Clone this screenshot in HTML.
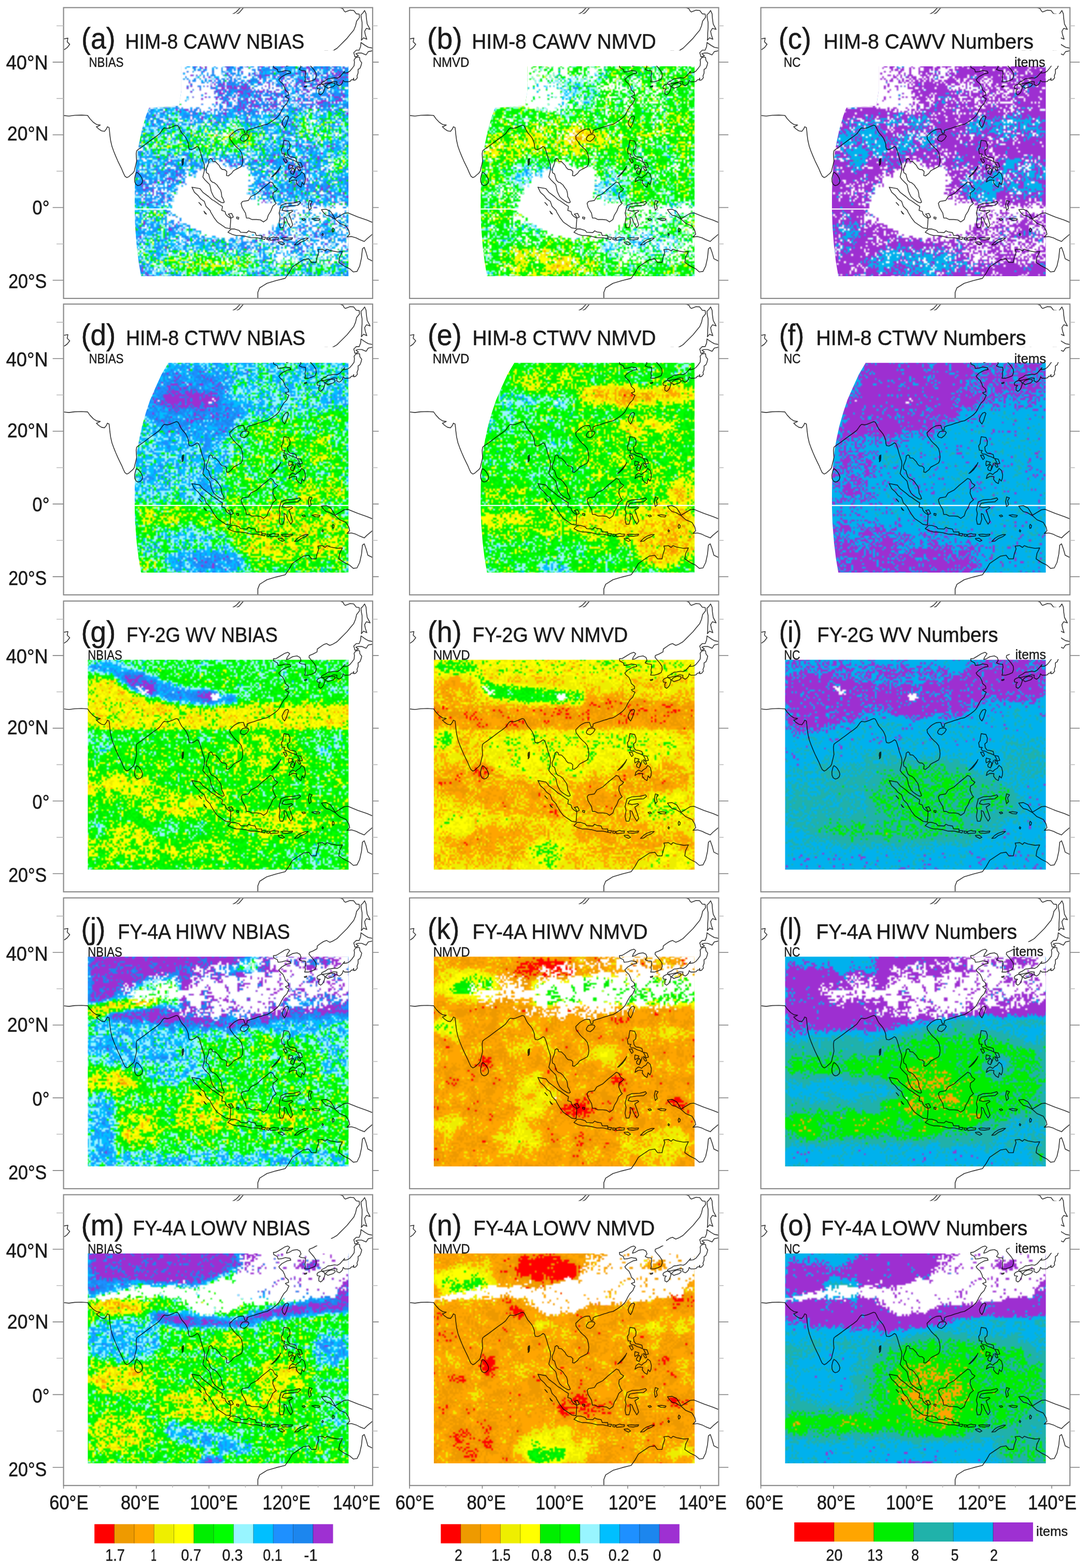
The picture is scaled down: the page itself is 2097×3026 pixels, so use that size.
<!DOCTYPE html>
<html><head><meta charset="utf-8"><title>Figure</title>
<style>html,body{margin:0;padding:0;background:#fff}svg{display:block}text{font-family:"Liberation Sans",sans-serif}</style></head>
<body>
<svg width="2097" height="3026" viewBox="0 0 2097 3026">
<defs>
<clipPath id="cH"><polygon points="202.1,113.4 549.8,113.4 549.8,518.3 149.5,518.3 144.9,491.2 141.2,461.1 138.2,423.5 137.0,386.0 137.4,348.4 139.3,310.8 141.9,284.4 145.7,261.9 151.3,235.6 158.9,209.3 167.1,184.8 177.7,160.4 188.9,136.0"/></clipPath>
<clipPath id="cH1"><polygon points="227.3,113.4 549.8,113.4 549.8,518.3 149.5,518.3 144.9,491.2 141.2,461.1 138.2,423.5 137.0,386.0 137.4,348.4 139.3,310.8 141.9,284.4 145.7,261.9 151.3,235.6 158.9,209.3 164.9,193.1 222.8,189.3 227.3,160.4"/></clipPath>
<clipPath id="cF"><polygon points="46.8,113.4 549.8,113.4 549.8,518.3 46.8,518.3"/></clipPath>
<clipPath id="cP"><rect x="0" y="0" width="596.3" height="561.2"/></clipPath>
<path id="coast" d="M-6.6,208.1 -0.9,208.1 10.4,209.3 21.6,207.8 34.8,207.4 46.4,208.1 50.8,214.3 57.4,221.3 63.9,225.6 70.9,226.6 66.7,228.8 63.4,229.9 67.7,234.1 73.3,237.8 79.0,238.8 82.7,234.1 84.6,229.9 87.8,231.5 88.6,237.8 89.3,245.4 90.8,256.6 93.4,267.9 96.8,277.3 100.6,286.7 104.7,296.1 108.5,304.0 112.2,311.5 115.2,318.7 118.4,325.3 122.2,328.1 126.0,326.2 129.7,322.8 133.5,319.6 136.3,315.9 137.8,309.3 139.5,302.7 141.0,296.1 140.4,288.6 140.1,282.0 141.0,276.4 143.8,273.9 150.4,269.4 157.0,264.5 164.5,258.9 172.0,253.3 178.6,248.7 185.2,243.5 188.6,238.8 191.2,235.0 194.2,232.2 196.8,232.6 200.2,233.1 204.3,232.2 209.2,230.3 213.7,228.4 217.5,226.9 220.5,227.7 222.8,231.3 225.0,236.3 228.0,241.6 232.2,246.3 235.9,251.0 238.7,256.6 240.8,262.7 241.2,268.9 242.5,273.2 247.2,273.9 252.8,271.3 257.5,267.9 260.4,269.4 262.6,274.5 264.9,282.0 266.9,289.5 269.4,297.1 271.6,303.3 272.0,310.2 271.3,315.9 270.1,320.9M141.0,317.7 144.8,320.2 148.0,323.9 151.0,329.0 152.5,334.1 151.3,339.0 147.6,342.4 143.4,343.5 139.7,341.2 137.4,336.5 137.0,330.3 138.2,324.3 139.5,320.2ZM229.5,292.0 230.8,295.2 230.7,299.9 229.5,302.1 228.4,298.9 228.6,294.6ZM270.1,320.6 268.7,326.9 272.2,331.8 277.8,337.4 282.0,341.6 283.4,347.2 284.8,354.3 286.9,359.2 289.7,364.8 293.9,369.0 298.8,372.5 304.5,376.0 308.0,376.7 310.1,375.3 308.0,369.7 305.2,364.8 304.5,357.8 303.0,352.2 298.8,346.5 296.0,342.3 291.1,338.1 286.9,336.7 283.4,333.2 281.3,326.9 279.9,321.3 275.7,318.5 275.0,312.2 277.8,305.2 279.9,299.5 280.6,293.2 284.1,291.1 286.9,293.2 287.6,296.7 293.2,297.4 296.7,300.9 300.2,304.5 302.3,308.7 305.9,312.2 311.5,312.9 315.0,316.4 314.3,324.1 317.8,324.8 324.1,319.9 327.6,315.0 331.1,312.9 336.7,310.1 343.0,306.6 345.1,301.6 345.8,294.6 345.1,287.6 343.0,279.2 338.8,273.6 333.9,269.4 329.0,264.5 325.5,259.6 321.3,253.9 320.6,248.3 324.1,244.8 328.3,240.6 332.5,237.8 338.1,235.0 343.0,234.3 347.2,234.3 348.6,238.5 350.0,242.7 353.6,242.7 354.3,237.1 359.2,235.0 366.9,232.9 374.6,230.1 380.2,228.7 385.8,226.6 392.8,225.2 398.5,221.7 404.8,217.5 410.4,213.3 415.3,208.3 418.1,203.4 420.9,197.8 425.1,190.8 430.7,185.2 432.8,180.3 434.9,176.1 430.0,173.3 427.9,171.2 434.2,169.1 433.5,164.2 427.9,159.2 426.5,154.3 423.0,147.3 417.4,142.4 415.3,138.9 420.9,133.3 425.8,130.5 431.4,127.7 438.4,126.3 437.0,122.8 427.9,121.4 420.9,123.5 413.9,124.2 412.5,119.3 405.5,115.7 404.8,111.5 410.4,110.8 417.4,106.6 426.5,101.0 432.8,98.9 436.3,101.7 431.4,108.7 430.0,112.9 434.9,111.5 441.9,107.3 450.4,105.9 456.0,108.7 458.1,114.3 454.6,119.3 459.5,121.4 466.5,122.1 467.2,127.7 465.8,133.3 466.5,138.9 465.1,143.1 472.1,143.1 479.1,141.0 485.4,138.2 487.5,131.9 486.8,125.6 482.6,119.3 477.0,112.9 473.5,108.7 474.2,105.2 481.2,102.4 488.9,98.2 489.6,92.6 495.3,88.4 501.6,84.2 507.2,82.1 513.5,85.6 519.1,83.5 527.5,78.6 533.1,73.0 540.2,65.9 547.2,58.9 552.8,51.9 559.8,43.5 563.3,35.1 565.4,26.0 571.0,18.9 570.3,12.6 564.7,11.9 559.8,5.6 552.8,4.9 543.7,8.4 541.6,7.0 538.8,2.1 529.6,-1.4M341.6,251.1 345.1,246.2 350.8,244.8 355.7,245.5 357.8,248.3 354.3,253.9 348.6,258.2 343.0,256.7 340.9,253.9ZM427.9,210.4 432.1,209.0 434.2,211.2 432.1,217.5 430.0,224.5 426.5,231.5 423.0,227.3 421.6,221.7 424.4,215.4ZM464.4,152.2 469.3,150.8 468.6,152.9 465.1,153.6ZM488.9,152.9 491.0,150.1 497.4,147.3 503.0,150.1 504.4,154.3 501.6,162.7 498.8,166.3 496.0,168.4 492.5,166.3 492.5,159.9 495.3,157.1 489.6,156.4ZM505.1,152.2 509.3,148.0 516.3,145.2 523.3,145.9 524.0,148.7 520.5,152.2 513.5,154.3 510.0,155.7ZM497.4,147.3 498.1,144.5 505.1,141.0 510.0,137.5 515.6,136.8 522.6,135.4 528.2,136.1 533.1,133.3 538.1,127.7 542.3,122.8 540.2,126.3 547.2,125.6 552.1,122.8 556.3,117.9 560.5,112.2 561.2,105.2 560.5,101.0 563.3,96.8 568.2,95.4 571.0,96.1 571.7,101.7 575.2,106.6 573.8,112.2 571.7,117.2 568.2,119.3 568.2,126.3 566.1,131.9 566.8,135.4 563.3,139.6 559.8,140.3 559.8,136.1 558.4,138.9 554.9,139.6 552.8,142.4 548.6,143.1 542.3,143.1 539.5,140.3 538.1,145.2 535.2,148.7 531.7,150.8 526.8,148.0 527.5,143.1 521.2,142.4 514.9,144.5 507.9,145.9 503.0,147.3ZM561.9,94.7 561.2,91.2 559.8,87.0 564.7,82.1 570.3,82.1 573.1,75.1 573.8,67.3 580.8,72.3 587.9,76.5 598.4,78.6 598.4,82.8 587.9,84.9 583.6,91.2 575.2,87.7 568.2,87.7 564.0,89.1 568.9,92.6 564.7,94.7ZM574.5,63.1 578.7,58.2 585.1,61.0 582.2,52.6 580.8,45.6 584.3,40.0 591.4,42.1 585.8,31.6 584.3,21.0 583.6,11.9 580.8,5.6 577.3,10.5 573.8,14.0 574.5,21.0 575.9,28.1 575.9,38.6 575.2,49.1 575.2,56.1ZM306.6,23.9 315.7,22.4 326.2,16.8 338.8,9.8 347.2,0.0 350.0,-4.2 343.7,-4.2 340.9,0.0 333.2,8.4 319.2,16.8 308.7,22.4ZM-3.5,61.0 8.4,58.9 7.0,65.9 11.9,70.9 7.0,77.2 2.1,80.7 -3.5,81.4M425.1,256.0 434.2,257.5 437.0,264.5 436.3,272.2 432.1,275.7 432.8,282.7 436.3,287.6 441.9,288.3 448.3,290.4 449.7,297.4 444.0,294.6 439.1,293.2 432.8,289.7 427.2,289.0 425.1,285.5 427.2,282.7 421.6,282.0 420.2,273.6 423.0,269.4 423.7,263.1ZM423.7,291.8 429.3,291.8 431.4,297.4 428.6,300.2 426.5,296.7ZM401.3,326.9 406.9,321.3 412.5,315.0 417.4,308.7 418.8,305.9 416.0,312.2 410.4,319.9 404.1,325.5ZM451.1,298.1 458.1,299.5 460.9,307.3 456.0,308.7 454.6,304.5ZM451.8,305.9 456.0,310.1 457.4,314.3 454.6,315.0 451.8,310.8ZM434.9,303.0 442.6,305.2 440.5,309.4 434.9,312.2 434.2,308.7ZM437.7,316.4 442.6,309.4 445.5,312.9 443.3,322.0 438.4,319.9ZM444.8,319.2 449.0,307.3 446.9,313.6ZM434.9,336.7 437.0,329.7 441.9,326.2 447.6,329.0 451.1,325.5 456.0,322.7 459.5,317.1 464.4,321.3 466.5,329.7 465.8,336.7 463.7,341.6 460.2,337.4 458.8,343.7 458.1,346.5 453.2,343.7 449.0,338.1 449.7,333.2 444.8,332.5 440.5,333.2ZM247.6,346.5 263.1,349.3 268.7,356.4 279.9,364.8 286.2,370.4 291.1,373.2 300.9,380.2 306.6,383.7 305.2,391.4 311.5,393.5 312.9,398.5 315.7,402.0 322.7,406.9 322.0,416.7 321.3,426.5 312.9,425.1 308.0,421.6 296.7,413.9 290.4,405.5 284.1,394.9 282.7,391.4 275.0,383.7 271.5,373.9 264.5,369.0 259.6,362.7 252.5,356.4ZM317.1,433.5 323.4,427.2 329.7,427.2 338.8,430.0 341.6,433.5 353.6,434.2 357.1,430.7 361.3,432.8 369.7,434.2 371.8,439.8 382.3,439.8 382.3,446.2 373.2,444.0 361.3,444.0 350.8,441.2 340.2,439.8 333.2,439.8 325.5,437.7ZM382.3,442.6 390.0,443.3 387.9,447.6 383.0,446.2ZM392.1,444.0 397.8,444.8 396.3,448.3 392.1,447.6ZM398.5,444.8 405.5,442.6 409.0,444.0 414.6,444.0 413.9,447.6 406.2,448.3 399.2,449.0ZM420.2,444.8 427.9,444.0 434.9,444.8 441.9,444.0 440.5,446.9 431.4,448.3 423.0,447.6ZM413.9,452.5 420.9,451.8 426.5,456.0 422.3,458.1 415.3,454.6ZM445.5,458.1 451.8,451.8 457.4,448.3 467.2,444.8 472.1,444.8 466.5,449.0 458.1,452.5 451.8,457.4ZM231.5,291.1 229.4,298.1 228.7,304.5 230.8,302.3 231.5,296.0ZM261.0,376.0 265.9,381.6 263.8,378.8ZM270.8,392.8 275.7,398.5 272.9,397.0ZM317.8,398.5 324.1,397.0 327.6,404.1 322.7,406.2 320.6,401.3ZM333.9,404.1 338.1,404.8 337.4,408.3 333.9,406.9ZM345.3,374.1 356.6,372.2 361.3,364.7 372.6,359.0 382.9,349.6 392.3,342.1 398.9,336.5 403.6,338.4 407.4,345.9 413.0,349.6 410.2,353.4 404.5,357.2 403.6,364.7 407.4,374.1 410.2,377.8 403.6,383.5 399.8,392.9 395.1,400.4 392.3,408.9 385.7,413.6 380.1,409.8 372.6,408.9 363.2,408.9 357.5,406.0 352.8,406.0 351.0,396.6 344.4,385.4 342.5,377.8ZM419.6,381.6 429.0,377.8 444.0,376.9 455.3,374.1 457.2,376.9 451.5,381.6 438.4,382.5 425.2,384.4 421.4,391.0 429.0,392.9 440.2,391.0 442.1,392.9 434.6,397.6 438.4,407.9 442.1,419.2 438.4,424.8 432.7,415.4 429.0,406.0 425.2,404.2 426.1,415.4 423.3,424.8 417.7,424.8 415.8,415.4 417.7,404.2 415.8,396.6 417.7,389.1ZM474.1,372.2 479.7,374.1 476.0,379.7 477.8,387.2 474.1,391.0 472.2,381.6ZM460.0,407.9 464.7,407.2 466.6,409.4 462.8,410.7ZM478.8,407.5 485.4,406.4 494.8,407.9 492.9,410.7 485.4,410.4ZM374.8,563.6 374.8,549.6 378.3,540.8 392.4,532.0 409.9,526.8 427.5,522.4 434.5,512.7 441.5,500.5 452.0,493.4 462.6,486.4 473.1,484.7 478.3,491.7 487.1,491.7 488.9,482.9 492.4,472.4 490.6,467.1 499.4,466.2 504.7,469.7 508.2,466.2 515.2,468.9 529.2,471.5 538.0,470.6 532.7,481.2 531.0,491.7 541.5,498.7 552.0,504.0 559.0,510.1 566.1,509.2 571.3,498.7 574.8,482.9 576.6,465.4 580.1,462.7 583.6,472.4 587.1,484.7 595.9,489.0 602.9,490.8M602.9,416.2 595.9,414.5 585.4,410.1 567.8,404.0 548.5,396.1 541.5,396.9 532.7,402.2 524.0,407.5 518.7,398.7 515.2,393.4 506.4,389.0 497.6,389.9 501.1,395.2 506.4,400.5 513.4,402.2 524.0,408.3 532.7,416.2 545.0,421.5 550.3,430.3 552.0,437.3 546.8,442.6 555.5,441.7 564.3,444.3 571.3,447.8 580.1,451.3 585.4,446.1 595.9,437.3 602.9,435.5M519.6,425.0 522.2,427.6 521.3,432.0 519.0,432.9 518.3,428.5ZM499.4,435.5 501.5,437.3 500.3,439.9 498.5,438.2Z" fill="none" stroke="#000" stroke-opacity="0.78" stroke-width="1.6" stroke-linejoin="round"/>
<filter id="qa" filterUnits="userSpaceOnUse" x="0" y="0" width="602" height="567" color-interpolation-filters="sRGB"><feTurbulence type="fractalNoise" baseFrequency="0.33" numOctaves="1" seed="3" result="n"/><feColorMatrix in="n" type="matrix" values="1 0 0 0 0 1 0 0 0 0 1 0 0 0 0 0 0 0 0 1" result="g"/><feTurbulence type="fractalNoise" baseFrequency="0.035" numOctaves="2" seed="50" result="n2"/><feColorMatrix in="n2" type="matrix" values="1 0 0 0 0 1 0 0 0 0 1 0 0 0 0 0 0 0 0 1" result="g2"/><feComposite in="g" in2="g2" operator="arithmetic" k1="0" k2="1.01246" k3="0.3125" k4="-0.162481" result="gg"/><feComposite in="SourceGraphic" in2="gg" operator="arithmetic" k1="0" k2="1" k3="1" k4="-0.5" result="v"/><feFlood flood-color="#000" x="1" y="1" width="1" height="1" result="p1"/><feFlood flood-color="#000" x="5" y="1" width="1" height="1" result="p2"/><feFlood flood-color="#000" x="1" y="5" width="1" height="1" result="p3"/><feFlood flood-color="#000" x="5" y="5" width="1" height="1" result="p4"/><feMerge x="0" y="0" width="7" height="7" result="cell"><feMergeNode in="p1"/><feMergeNode in="p2"/><feMergeNode in="p3"/><feMergeNode in="p4"/></feMerge><feTile in="cell" result="pts"/><feComposite in="v" in2="pts" operator="in" result="s"/><feMorphology in="s" operator="dilate" radius="1" result="d"/><feOffset in="d" dx="1" dy="0" result="o1"/><feOffset in="d" dx="0" dy="1" result="o2"/><feOffset in="d" dx="1" dy="1" result="o3"/><feMerge><feMergeNode in="o3"/><feMergeNode in="o2"/><feMergeNode in="o1"/><feMergeNode in="d"/></feMerge><feComponentTransfer><feFuncR type="discrete" tableValues="1.0000 0.9333 1.0000 0.9333 1.0000 0.0000 0.0000 0.5961 0.0000 0.1176 0.1098 0.6196"/><feFuncG type="discrete" tableValues="0.0000 0.6039 0.6471 0.9333 1.0000 0.9333 1.0000 0.9608 0.7490 0.5647 0.5255 0.1882"/><feFuncB type="discrete" tableValues="0.0000 0.0000 0.0000 0.0000 0.0000 0.0000 0.0000 1.0000 1.0000 1.0000 0.9333 0.8235"/></feComponentTransfer><feGaussianBlur stdDeviation="0.8"/></filter>
<filter id="g0" filterUnits="userSpaceOnUse" x="0" y="0" width="602" height="567" color-interpolation-filters="sRGB"><feTurbulence type="fractalNoise" baseFrequency="0.33" numOctaves="1" seed="101" result="n"/><feColorMatrix in="n" type="matrix" values="0 1 0 0 0 0 1 0 0 0 0 1 0 0 0 0 0 0 0 1" result="g"/><feTurbulence type="fractalNoise" baseFrequency="0.03" numOctaves="2" seed="201" result="n2"/><feColorMatrix in="n2" type="matrix" values="0 1 0 0 0 0 1 0 0 0 0 1 0 0 0 0 0 0 0 1" result="g2"/><feComposite in="g" in2="g2" operator="arithmetic" k1="0" k2="1" k3="0.375" k4="-0.1875" result="gg"/><feComposite in="SourceGraphic" in2="gg" operator="arithmetic" k1="0" k2="1" k3="1" k4="-0.5" result="v"/><feFlood flood-color="#000" x="1" y="1" width="1" height="1" result="p1"/><feFlood flood-color="#000" x="5" y="1" width="1" height="1" result="p2"/><feFlood flood-color="#000" x="1" y="5" width="1" height="1" result="p3"/><feFlood flood-color="#000" x="5" y="5" width="1" height="1" result="p4"/><feMerge x="0" y="0" width="7" height="7" result="cell"><feMergeNode in="p1"/><feMergeNode in="p2"/><feMergeNode in="p3"/><feMergeNode in="p4"/></feMerge><feTile in="cell" result="pts"/><feComposite in="v" in2="pts" operator="in" result="s"/><feMorphology in="s" operator="dilate" radius="1" result="d"/><feOffset in="d" dx="1" dy="0" result="o1"/><feOffset in="d" dx="0" dy="1" result="o2"/><feOffset in="d" dx="1" dy="1" result="o3"/><feMerge><feMergeNode in="o3"/><feMergeNode in="o2"/><feMergeNode in="o1"/><feMergeNode in="d"/></feMerge><feColorMatrix type="matrix" values="0 0 0 0 1 0 0 0 0 1 0 0 0 0 1 1 0 0 0 0"/><feComponentTransfer><feFuncA type="discrete" tableValues="0 1"/></feComponentTransfer><feGaussianBlur stdDeviation="0.8"/></filter>
<g id="Gg0"><rect x="-5" y="50" width="620" height="520" fill="#5b5b5b"/><g filter="url(#b140)"><ellipse cx="305.5" cy="374.7" rx="120.3" ry="78.9" fill="#747474"/></g><g filter="url(#b120)"><polygon points="373.1,130.3 516.0,130.3 516.0,198.0 373.1,198.0 335.5,179.2" fill="#707070"/></g><g filter="url(#b80)"><ellipse cx="448.3" cy="175.4" rx="41.4" ry="15.0" fill="#797979"/></g><g filter="url(#b100)"><polygon points="290.4,100.2 373.1,100.2 373.1,149.1 290.4,149.1" fill="#797979"/><polygon points="222.8,100.2 298.0,100.2 298.0,160.4 222.8,160.4" fill="#969696"/></g><g filter="url(#b80)"><polygon points="230.3,156.6 294.2,156.6 298.0,194.2 275.4,205.5 260.4,190.5 230.3,188.6" fill="#9c9c9c"/><ellipse cx="320.5" cy="182.9" rx="22.6" ry="18.8" fill="#808080"/></g><g filter="url(#b25)"><polygon points="222.8,154.7 273.5,154.7 273.5,192.3 222.8,192.3" fill="#a2a2a2"/></g><g filter="url(#b15)"><polygon points="110.0,100.2 227.3,100.2 227.3,160.4 222.8,189.0 162.6,192.7 110.0,243.1" fill="#ffffff"/></g><g filter="url(#b80)"><polygon points="410.7,380.3 549.8,380.3 549.8,431.1 410.7,431.1" fill="#838383"/></g><g filter="url(#b40)"><ellipse cx="512.2" cy="390.5" rx="41.4" ry="5.3" fill="#a2a2a2"/></g><g filter="url(#b100)"><polygon points="316.7,423.5 549.8,423.5 549.8,491.2 429.5,491.2 316.7,457.4" fill="#797979"/></g><g filter="url(#b80)"><ellipse cx="410.7" cy="446.1" rx="41.4" ry="15.0" fill="#838383"/><ellipse cx="222.8" cy="386.0" rx="33.8" ry="41.4" fill="#717171"/></g><g filter="url(#b70)"><polygon points="245.3,337.1 260.4,325.8 275.4,314.5 286.7,301.4 303.6,299.5 313.0,316.4 335.5,310.8 356.2,316.4 354.3,348.4 351.3,370.9 373.1,384.1 405.1,384.1 418.3,397.2 407.0,416.0 373.1,431.8 335.5,434.8 316.7,443.1 284.8,432.9 245.3,417.9 219.0,404.7 212.2,386.0 219.0,367.2 232.2,350.2" fill="#ffffff"/></g></g>
<filter id="qb" filterUnits="userSpaceOnUse" x="0" y="0" width="602" height="567" color-interpolation-filters="sRGB"><feTurbulence type="fractalNoise" baseFrequency="0.33" numOctaves="1" seed="10" result="n"/><feColorMatrix in="n" type="matrix" values="1 0 0 0 0 1 0 0 0 0 1 0 0 0 0 0 0 0 0 1" result="g"/><feTurbulence type="fractalNoise" baseFrequency="0.035" numOctaves="2" seed="53" result="n2"/><feColorMatrix in="n2" type="matrix" values="1 0 0 0 0 1 0 0 0 0 1 0 0 0 0 0 0 0 0 1" result="g2"/><feComposite in="g" in2="g2" operator="arithmetic" k1="0" k2="0.623053" k3="0.277778" k4="0.0495846" result="gg"/><feComposite in="SourceGraphic" in2="gg" operator="arithmetic" k1="0" k2="1" k3="1" k4="-0.5" result="v"/><feFlood flood-color="#000" x="1" y="1" width="1" height="1" result="p1"/><feFlood flood-color="#000" x="5" y="1" width="1" height="1" result="p2"/><feFlood flood-color="#000" x="1" y="5" width="1" height="1" result="p3"/><feFlood flood-color="#000" x="5" y="5" width="1" height="1" result="p4"/><feMerge x="0" y="0" width="7" height="7" result="cell"><feMergeNode in="p1"/><feMergeNode in="p2"/><feMergeNode in="p3"/><feMergeNode in="p4"/></feMerge><feTile in="cell" result="pts"/><feComposite in="v" in2="pts" operator="in" result="s"/><feMorphology in="s" operator="dilate" radius="1" result="d"/><feOffset in="d" dx="1" dy="0" result="o1"/><feOffset in="d" dx="0" dy="1" result="o2"/><feOffset in="d" dx="1" dy="1" result="o3"/><feMerge><feMergeNode in="o3"/><feMergeNode in="o2"/><feMergeNode in="o1"/><feMergeNode in="d"/></feMerge><feComponentTransfer><feFuncR type="discrete" tableValues="1.0000 0.9333 1.0000 0.9333 1.0000 0.0000 0.0000 0.5961 0.0000 0.1176 0.1098 0.6196"/><feFuncG type="discrete" tableValues="0.0000 0.6039 0.6471 0.9333 1.0000 0.9333 1.0000 0.9608 0.7490 0.5647 0.5255 0.1882"/><feFuncB type="discrete" tableValues="0.0000 0.0000 0.0000 0.0000 0.0000 0.0000 0.0000 1.0000 1.0000 1.0000 0.9333 0.8235"/></feComponentTransfer><feGaussianBlur stdDeviation="0.8"/></filter>
<filter id="qc" filterUnits="userSpaceOnUse" x="0" y="0" width="602" height="567" color-interpolation-filters="sRGB"><feTurbulence type="fractalNoise" baseFrequency="0.33" numOctaves="1" seed="17" result="n"/><feColorMatrix in="n" type="matrix" values="1 0 0 0 0 1 0 0 0 0 1 0 0 0 0 0 0 0 0 1" result="g"/><feTurbulence type="fractalNoise" baseFrequency="0.035" numOctaves="2" seed="56" result="n2"/><feColorMatrix in="n2" type="matrix" values="1 0 0 0 0 1 0 0 0 0 1 0 0 0 0 0 0 0 0 1" result="g2"/><feComposite in="g" in2="g2" operator="arithmetic" k1="0" k2="0.420561" k3="0.236111" k4="0.171664" result="gg"/><feComposite in="SourceGraphic" in2="gg" operator="arithmetic" k1="0" k2="1" k3="1" k4="-0.5" result="v"/><feFlood flood-color="#000" x="1" y="1" width="1" height="1" result="p1"/><feFlood flood-color="#000" x="5" y="1" width="1" height="1" result="p2"/><feFlood flood-color="#000" x="1" y="5" width="1" height="1" result="p3"/><feFlood flood-color="#000" x="5" y="5" width="1" height="1" result="p4"/><feMerge x="0" y="0" width="7" height="7" result="cell"><feMergeNode in="p1"/><feMergeNode in="p2"/><feMergeNode in="p3"/><feMergeNode in="p4"/></feMerge><feTile in="cell" result="pts"/><feComposite in="v" in2="pts" operator="in" result="s"/><feMorphology in="s" operator="dilate" radius="1" result="d"/><feOffset in="d" dx="1" dy="0" result="o1"/><feOffset in="d" dx="0" dy="1" result="o2"/><feOffset in="d" dx="1" dy="1" result="o3"/><feMerge><feMergeNode in="o3"/><feMergeNode in="o2"/><feMergeNode in="o1"/><feMergeNode in="d"/></feMerge><feComponentTransfer><feFuncR type="discrete" tableValues="1.0000 1.0000 0.0000 0.1255 0.0000 0.6196"/><feFuncG type="discrete" tableValues="0.0000 0.6471 0.9333 0.6980 0.6980 0.1882"/><feFuncB type="discrete" tableValues="0.0000 0.0000 0.0000 0.6667 0.9333 0.8235"/></feComponentTransfer><feGaussianBlur stdDeviation="0.8"/></filter>
<filter id="qd" filterUnits="userSpaceOnUse" x="0" y="0" width="602" height="567" color-interpolation-filters="sRGB"><feTurbulence type="fractalNoise" baseFrequency="0.33" numOctaves="1" seed="24" result="n"/><feColorMatrix in="n" type="matrix" values="1 0 0 0 0 1 0 0 0 0 1 0 0 0 0 0 0 0 0 1" result="g"/><feTurbulence type="fractalNoise" baseFrequency="0.035" numOctaves="2" seed="59" result="n2"/><feColorMatrix in="n2" type="matrix" values="1 0 0 0 0 1 0 0 0 0 1 0 0 0 0 0 0 0 0 1" result="g2"/><feComposite in="g" in2="g2" operator="arithmetic" k1="0" k2="0.700935" k3="0.277778" k4="0.0106438" result="gg"/><feComposite in="SourceGraphic" in2="gg" operator="arithmetic" k1="0" k2="1" k3="1" k4="-0.5" result="v"/><feFlood flood-color="#000" x="1" y="1" width="1" height="1" result="p1"/><feFlood flood-color="#000" x="5" y="1" width="1" height="1" result="p2"/><feFlood flood-color="#000" x="1" y="5" width="1" height="1" result="p3"/><feFlood flood-color="#000" x="5" y="5" width="1" height="1" result="p4"/><feMerge x="0" y="0" width="7" height="7" result="cell"><feMergeNode in="p1"/><feMergeNode in="p2"/><feMergeNode in="p3"/><feMergeNode in="p4"/></feMerge><feTile in="cell" result="pts"/><feComposite in="v" in2="pts" operator="in" result="s"/><feMorphology in="s" operator="dilate" radius="1" result="d"/><feOffset in="d" dx="1" dy="0" result="o1"/><feOffset in="d" dx="0" dy="1" result="o2"/><feOffset in="d" dx="1" dy="1" result="o3"/><feMerge><feMergeNode in="o3"/><feMergeNode in="o2"/><feMergeNode in="o1"/><feMergeNode in="d"/></feMerge><feComponentTransfer><feFuncR type="discrete" tableValues="1.0000 0.9333 1.0000 0.9333 1.0000 0.0000 0.0000 0.5961 0.0000 0.1176 0.1098 0.6196"/><feFuncG type="discrete" tableValues="0.0000 0.6039 0.6471 0.9333 1.0000 0.9333 1.0000 0.9608 0.7490 0.5647 0.5255 0.1882"/><feFuncB type="discrete" tableValues="0.0000 0.0000 0.0000 0.0000 0.0000 0.0000 0.0000 1.0000 1.0000 1.0000 0.9333 0.8235"/></feComponentTransfer><feGaussianBlur stdDeviation="0.8"/></filter>
<filter id="g1" filterUnits="userSpaceOnUse" x="0" y="0" width="602" height="567" color-interpolation-filters="sRGB"><feTurbulence type="fractalNoise" baseFrequency="0.33" numOctaves="1" seed="114" result="n"/><feColorMatrix in="n" type="matrix" values="0 1 0 0 0 0 1 0 0 0 0 1 0 0 0 0 0 0 0 1" result="g"/><feTurbulence type="fractalNoise" baseFrequency="0.03" numOctaves="2" seed="206" result="n2"/><feColorMatrix in="n2" type="matrix" values="0 1 0 0 0 0 1 0 0 0 0 1 0 0 0 0 0 0 0 1" result="g2"/><feComposite in="g" in2="g2" operator="arithmetic" k1="0" k2="1" k3="0.333333" k4="-0.166667" result="gg"/><feComposite in="SourceGraphic" in2="gg" operator="arithmetic" k1="0" k2="1" k3="1" k4="-0.5" result="v"/><feFlood flood-color="#000" x="1" y="1" width="1" height="1" result="p1"/><feFlood flood-color="#000" x="5" y="1" width="1" height="1" result="p2"/><feFlood flood-color="#000" x="1" y="5" width="1" height="1" result="p3"/><feFlood flood-color="#000" x="5" y="5" width="1" height="1" result="p4"/><feMerge x="0" y="0" width="7" height="7" result="cell"><feMergeNode in="p1"/><feMergeNode in="p2"/><feMergeNode in="p3"/><feMergeNode in="p4"/></feMerge><feTile in="cell" result="pts"/><feComposite in="v" in2="pts" operator="in" result="s"/><feMorphology in="s" operator="dilate" radius="1" result="d"/><feOffset in="d" dx="1" dy="0" result="o1"/><feOffset in="d" dx="0" dy="1" result="o2"/><feOffset in="d" dx="1" dy="1" result="o3"/><feMerge><feMergeNode in="o3"/><feMergeNode in="o2"/><feMergeNode in="o1"/><feMergeNode in="d"/></feMerge><feColorMatrix type="matrix" values="0 0 0 0 1 0 0 0 0 1 0 0 0 0 1 1 0 0 0 0"/><feComponentTransfer><feFuncA type="discrete" tableValues="0 1"/></feComponentTransfer><feGaussianBlur stdDeviation="0.8"/></filter>
<g id="Gg1"><rect x="-5" y="50" width="620" height="520" fill="#000000"/><g filter="url(#b30)"><ellipse cx="190.8" cy="187.5" rx="16.9" ry="4.5" fill="#757575"/></g><g filter="url(#b40)"><ellipse cx="286.7" cy="189.7" rx="18.8" ry="8.3" fill="#7a7a7a"/></g></g>
<filter id="qe" filterUnits="userSpaceOnUse" x="0" y="0" width="602" height="567" color-interpolation-filters="sRGB"><feTurbulence type="fractalNoise" baseFrequency="0.33" numOctaves="1" seed="31" result="n"/><feColorMatrix in="n" type="matrix" values="1 0 0 0 0 1 0 0 0 0 1 0 0 0 0 0 0 0 0 1" result="g"/><feTurbulence type="fractalNoise" baseFrequency="0.035" numOctaves="2" seed="62" result="n2"/><feColorMatrix in="n2" type="matrix" values="1 0 0 0 0 1 0 0 0 0 1 0 0 0 0 0 0 0 0 1" result="g2"/><feComposite in="g" in2="g2" operator="arithmetic" k1="0" k2="0.584112" k3="0.277778" k4="0.069055" result="gg"/><feComposite in="SourceGraphic" in2="gg" operator="arithmetic" k1="0" k2="1" k3="1" k4="-0.5" result="v"/><feFlood flood-color="#000" x="1" y="1" width="1" height="1" result="p1"/><feFlood flood-color="#000" x="5" y="1" width="1" height="1" result="p2"/><feFlood flood-color="#000" x="1" y="5" width="1" height="1" result="p3"/><feFlood flood-color="#000" x="5" y="5" width="1" height="1" result="p4"/><feMerge x="0" y="0" width="7" height="7" result="cell"><feMergeNode in="p1"/><feMergeNode in="p2"/><feMergeNode in="p3"/><feMergeNode in="p4"/></feMerge><feTile in="cell" result="pts"/><feComposite in="v" in2="pts" operator="in" result="s"/><feMorphology in="s" operator="dilate" radius="1" result="d"/><feOffset in="d" dx="1" dy="0" result="o1"/><feOffset in="d" dx="0" dy="1" result="o2"/><feOffset in="d" dx="1" dy="1" result="o3"/><feMerge><feMergeNode in="o3"/><feMergeNode in="o2"/><feMergeNode in="o1"/><feMergeNode in="d"/></feMerge><feComponentTransfer><feFuncR type="discrete" tableValues="1.0000 0.9333 1.0000 0.9333 1.0000 0.0000 0.0000 0.5961 0.0000 0.1176 0.1098 0.6196"/><feFuncG type="discrete" tableValues="0.0000 0.6039 0.6471 0.9333 1.0000 0.9333 1.0000 0.9608 0.7490 0.5647 0.5255 0.1882"/><feFuncB type="discrete" tableValues="0.0000 0.0000 0.0000 0.0000 0.0000 0.0000 0.0000 1.0000 1.0000 1.0000 0.9333 0.8235"/></feComponentTransfer><feGaussianBlur stdDeviation="0.8"/></filter>
<filter id="qf" filterUnits="userSpaceOnUse" x="0" y="0" width="602" height="567" color-interpolation-filters="sRGB"><feTurbulence type="fractalNoise" baseFrequency="0.33" numOctaves="1" seed="38" result="n"/><feColorMatrix in="n" type="matrix" values="1 0 0 0 0 1 0 0 0 0 1 0 0 0 0 0 0 0 0 1" result="g"/><feTurbulence type="fractalNoise" baseFrequency="0.035" numOctaves="2" seed="65" result="n2"/><feColorMatrix in="n2" type="matrix" values="1 0 0 0 0 1 0 0 0 0 1 0 0 0 0 0 0 0 0 1" result="g2"/><feComposite in="g" in2="g2" operator="arithmetic" k1="0" k2="0.46729" k3="0.180556" k4="0.176077" result="gg"/><feComposite in="SourceGraphic" in2="gg" operator="arithmetic" k1="0" k2="1" k3="1" k4="-0.5" result="v"/><feFlood flood-color="#000" x="1" y="1" width="1" height="1" result="p1"/><feFlood flood-color="#000" x="5" y="1" width="1" height="1" result="p2"/><feFlood flood-color="#000" x="1" y="5" width="1" height="1" result="p3"/><feFlood flood-color="#000" x="5" y="5" width="1" height="1" result="p4"/><feMerge x="0" y="0" width="7" height="7" result="cell"><feMergeNode in="p1"/><feMergeNode in="p2"/><feMergeNode in="p3"/><feMergeNode in="p4"/></feMerge><feTile in="cell" result="pts"/><feComposite in="v" in2="pts" operator="in" result="s"/><feMorphology in="s" operator="dilate" radius="1" result="d"/><feOffset in="d" dx="1" dy="0" result="o1"/><feOffset in="d" dx="0" dy="1" result="o2"/><feOffset in="d" dx="1" dy="1" result="o3"/><feMerge><feMergeNode in="o3"/><feMergeNode in="o2"/><feMergeNode in="o1"/><feMergeNode in="d"/></feMerge><feComponentTransfer><feFuncR type="discrete" tableValues="1.0000 1.0000 0.0000 0.1255 0.0000 0.6196"/><feFuncG type="discrete" tableValues="0.0000 0.6471 0.9333 0.6980 0.6980 0.1882"/><feFuncB type="discrete" tableValues="0.0000 0.0000 0.0000 0.6667 0.9333 0.8235"/></feComponentTransfer><feGaussianBlur stdDeviation="0.8"/></filter>
<filter id="qg" filterUnits="userSpaceOnUse" x="0" y="0" width="602" height="567" color-interpolation-filters="sRGB"><feTurbulence type="fractalNoise" baseFrequency="0.33" numOctaves="1" seed="45" result="n"/><feColorMatrix in="n" type="matrix" values="1 0 0 0 0 1 0 0 0 0 1 0 0 0 0 0 0 0 0 1" result="g"/><feTurbulence type="fractalNoise" baseFrequency="0.05" numOctaves="2" seed="68" result="n2"/><feColorMatrix in="n2" type="matrix" values="1 0 0 0 0 1 0 0 0 0 1 0 0 0 0 0 0 0 0 1" result="g2"/><feComposite in="g" in2="g2" operator="arithmetic" k1="0" k2="0.506231" k3="0.277778" k4="0.107996" result="gg"/><feComposite in="SourceGraphic" in2="gg" operator="arithmetic" k1="0" k2="1" k3="1" k4="-0.5" result="v"/><feFlood flood-color="#000" x="1" y="1" width="1" height="1" result="p1"/><feFlood flood-color="#000" x="5" y="1" width="1" height="1" result="p2"/><feFlood flood-color="#000" x="1" y="5" width="1" height="1" result="p3"/><feFlood flood-color="#000" x="5" y="5" width="1" height="1" result="p4"/><feMerge x="0" y="0" width="7" height="7" result="cell"><feMergeNode in="p1"/><feMergeNode in="p2"/><feMergeNode in="p3"/><feMergeNode in="p4"/></feMerge><feTile in="cell" result="pts"/><feComposite in="v" in2="pts" operator="in" result="s"/><feMorphology in="s" operator="dilate" radius="1" result="d"/><feOffset in="d" dx="1" dy="0" result="o1"/><feOffset in="d" dx="0" dy="1" result="o2"/><feOffset in="d" dx="1" dy="1" result="o3"/><feMerge><feMergeNode in="o3"/><feMergeNode in="o2"/><feMergeNode in="o1"/><feMergeNode in="d"/></feMerge><feComponentTransfer><feFuncR type="discrete" tableValues="1.0000 0.9333 1.0000 0.9333 1.0000 0.0000 0.0000 0.5961 0.0000 0.1176 0.1098 0.6196"/><feFuncG type="discrete" tableValues="0.0000 0.6039 0.6471 0.9333 1.0000 0.9333 1.0000 0.9608 0.7490 0.5647 0.5255 0.1882"/><feFuncB type="discrete" tableValues="0.0000 0.0000 0.0000 0.0000 0.0000 0.0000 0.0000 1.0000 1.0000 1.0000 0.9333 0.8235"/></feComponentTransfer><feGaussianBlur stdDeviation="0.8"/></filter>
<filter id="g2" filterUnits="userSpaceOnUse" x="0" y="0" width="602" height="567" color-interpolation-filters="sRGB"><feTurbulence type="fractalNoise" baseFrequency="0.33" numOctaves="1" seed="127" result="n"/><feColorMatrix in="n" type="matrix" values="0 1 0 0 0 0 1 0 0 0 0 1 0 0 0 0 0 0 0 1" result="g"/><feTurbulence type="fractalNoise" baseFrequency="0.03" numOctaves="2" seed="211" result="n2"/><feColorMatrix in="n2" type="matrix" values="0 1 0 0 0 0 1 0 0 0 0 1 0 0 0 0 0 0 0 1" result="g2"/><feComposite in="g" in2="g2" operator="arithmetic" k1="0" k2="1" k3="0.333333" k4="-0.166667" result="gg"/><feComposite in="SourceGraphic" in2="gg" operator="arithmetic" k1="0" k2="1" k3="1" k4="-0.5" result="v"/><feFlood flood-color="#000" x="1" y="1" width="1" height="1" result="p1"/><feFlood flood-color="#000" x="5" y="1" width="1" height="1" result="p2"/><feFlood flood-color="#000" x="1" y="5" width="1" height="1" result="p3"/><feFlood flood-color="#000" x="5" y="5" width="1" height="1" result="p4"/><feMerge x="0" y="0" width="7" height="7" result="cell"><feMergeNode in="p1"/><feMergeNode in="p2"/><feMergeNode in="p3"/><feMergeNode in="p4"/></feMerge><feTile in="cell" result="pts"/><feComposite in="v" in2="pts" operator="in" result="s"/><feMorphology in="s" operator="dilate" radius="1" result="d"/><feOffset in="d" dx="1" dy="0" result="o1"/><feOffset in="d" dx="0" dy="1" result="o2"/><feOffset in="d" dx="1" dy="1" result="o3"/><feMerge><feMergeNode in="o3"/><feMergeNode in="o2"/><feMergeNode in="o1"/><feMergeNode in="d"/></feMerge><feColorMatrix type="matrix" values="0 0 0 0 1 0 0 0 0 1 0 0 0 0 1 1 0 0 0 0"/><feComponentTransfer><feFuncA type="discrete" tableValues="0 1"/></feComponentTransfer><feGaussianBlur stdDeviation="0.8"/></filter>
<g id="Gg2"><rect x="-5" y="50" width="620" height="520" fill="#000000"/><g filter="url(#b30)"><ellipse cx="151.3" cy="171.7" rx="20.7" ry="8.3" fill="#929292" transform="rotate(30 151.3 171.7)"/><ellipse cx="294.2" cy="184.8" rx="14.3" ry="9.4" fill="#8e8e8e"/></g><g filter="url(#b20)"><ellipse cx="192.7" cy="183.7" rx="5.6" ry="3.8" fill="#808080"/></g></g>
<filter id="qh" filterUnits="userSpaceOnUse" x="0" y="0" width="602" height="567" color-interpolation-filters="sRGB"><feTurbulence type="fractalNoise" baseFrequency="0.3" numOctaves="1" seed="52" result="n"/><feColorMatrix in="n" type="matrix" values="1 0 0 0 0 1 0 0 0 0 1 0 0 0 0 0 0 0 0 1" result="g"/><feTurbulence type="fractalNoise" baseFrequency="0.035" numOctaves="2" seed="71" result="n2"/><feColorMatrix in="n2" type="matrix" values="1 0 0 0 0 1 0 0 0 0 1 0 0 0 0 0 0 0 0 1" result="g2"/><feComposite in="g" in2="g2" operator="arithmetic" k1="0" k2="0.428349" k3="0.208333" k4="0.181659" result="gg"/><feComposite in="SourceGraphic" in2="gg" operator="arithmetic" k1="0" k2="1" k3="1" k4="-0.5" result="v"/><feFlood flood-color="#000" x="1" y="1" width="1" height="1" result="p1"/><feFlood flood-color="#000" x="5" y="1" width="1" height="1" result="p2"/><feFlood flood-color="#000" x="1" y="5" width="1" height="1" result="p3"/><feFlood flood-color="#000" x="5" y="5" width="1" height="1" result="p4"/><feMerge x="0" y="0" width="7" height="7" result="cell"><feMergeNode in="p1"/><feMergeNode in="p2"/><feMergeNode in="p3"/><feMergeNode in="p4"/></feMerge><feTile in="cell" result="pts"/><feComposite in="v" in2="pts" operator="in" result="s"/><feMorphology in="s" operator="dilate" radius="1" result="d"/><feOffset in="d" dx="1" dy="0" result="o1"/><feOffset in="d" dx="0" dy="1" result="o2"/><feOffset in="d" dx="1" dy="1" result="o3"/><feMerge><feMergeNode in="o3"/><feMergeNode in="o2"/><feMergeNode in="o1"/><feMergeNode in="d"/></feMerge><feComponentTransfer><feFuncR type="discrete" tableValues="1.0000 0.9333 1.0000 0.9333 1.0000 0.0000 0.0000 0.5961 0.0000 0.1176 0.1098 0.6196"/><feFuncG type="discrete" tableValues="0.0000 0.6039 0.6471 0.9333 1.0000 0.9333 1.0000 0.9608 0.7490 0.5647 0.5255 0.1882"/><feFuncB type="discrete" tableValues="0.0000 0.0000 0.0000 0.0000 0.0000 0.0000 0.0000 1.0000 1.0000 1.0000 0.9333 0.8235"/></feComponentTransfer><feGaussianBlur stdDeviation="0.8"/></filter>
<filter id="qi" filterUnits="userSpaceOnUse" x="0" y="0" width="602" height="567" color-interpolation-filters="sRGB"><feTurbulence type="fractalNoise" baseFrequency="0.33" numOctaves="1" seed="59" result="n"/><feColorMatrix in="n" type="matrix" values="1 0 0 0 0 1 0 0 0 0 1 0 0 0 0 0 0 0 0 1" result="g"/><feTurbulence type="fractalNoise" baseFrequency="0.035" numOctaves="2" seed="74" result="n2"/><feColorMatrix in="n2" type="matrix" values="1 0 0 0 0 1 0 0 0 0 1 0 0 0 0 0 0 0 0 1" result="g2"/><feComposite in="g" in2="g2" operator="arithmetic" k1="0" k2="0.46729" k3="0.166667" k4="0.183022" result="gg"/><feComposite in="SourceGraphic" in2="gg" operator="arithmetic" k1="0" k2="1" k3="1" k4="-0.5" result="v"/><feFlood flood-color="#000" x="1" y="1" width="1" height="1" result="p1"/><feFlood flood-color="#000" x="5" y="1" width="1" height="1" result="p2"/><feFlood flood-color="#000" x="1" y="5" width="1" height="1" result="p3"/><feFlood flood-color="#000" x="5" y="5" width="1" height="1" result="p4"/><feMerge x="0" y="0" width="7" height="7" result="cell"><feMergeNode in="p1"/><feMergeNode in="p2"/><feMergeNode in="p3"/><feMergeNode in="p4"/></feMerge><feTile in="cell" result="pts"/><feComposite in="v" in2="pts" operator="in" result="s"/><feMorphology in="s" operator="dilate" radius="1" result="d"/><feOffset in="d" dx="1" dy="0" result="o1"/><feOffset in="d" dx="0" dy="1" result="o2"/><feOffset in="d" dx="1" dy="1" result="o3"/><feMerge><feMergeNode in="o3"/><feMergeNode in="o2"/><feMergeNode in="o1"/><feMergeNode in="d"/></feMerge><feComponentTransfer><feFuncR type="discrete" tableValues="1.0000 1.0000 0.0000 0.1255 0.0000 0.6196"/><feFuncG type="discrete" tableValues="0.0000 0.6471 0.9333 0.6980 0.6980 0.1882"/><feFuncB type="discrete" tableValues="0.0000 0.0000 0.0000 0.6667 0.9333 0.8235"/></feComponentTransfer><feGaussianBlur stdDeviation="0.8"/></filter>
<filter id="qj" filterUnits="userSpaceOnUse" x="0" y="0" width="602" height="567" color-interpolation-filters="sRGB"><feTurbulence type="fractalNoise" baseFrequency="0.33" numOctaves="1" seed="66" result="n"/><feColorMatrix in="n" type="matrix" values="1 0 0 0 0 1 0 0 0 0 1 0 0 0 0 0 0 0 0 1" result="g"/><feTurbulence type="fractalNoise" baseFrequency="0.06" numOctaves="2" seed="77" result="n2"/><feColorMatrix in="n2" type="matrix" values="1 0 0 0 0 1 0 0 0 0 1 0 0 0 0 0 0 0 0 1" result="g2"/><feComposite in="g" in2="g2" operator="arithmetic" k1="0" k2="0.584112" k3="0.381944" k4="0.0169717" result="gg"/><feComposite in="SourceGraphic" in2="gg" operator="arithmetic" k1="0" k2="1" k3="1" k4="-0.5" result="v"/><feFlood flood-color="#000" x="1" y="1" width="1" height="1" result="p1"/><feFlood flood-color="#000" x="5" y="1" width="1" height="1" result="p2"/><feFlood flood-color="#000" x="1" y="5" width="1" height="1" result="p3"/><feFlood flood-color="#000" x="5" y="5" width="1" height="1" result="p4"/><feMerge x="0" y="0" width="7" height="7" result="cell"><feMergeNode in="p1"/><feMergeNode in="p2"/><feMergeNode in="p3"/><feMergeNode in="p4"/></feMerge><feTile in="cell" result="pts"/><feComposite in="v" in2="pts" operator="in" result="s"/><feMorphology in="s" operator="dilate" radius="1" result="d"/><feOffset in="d" dx="1" dy="0" result="o1"/><feOffset in="d" dx="0" dy="1" result="o2"/><feOffset in="d" dx="1" dy="1" result="o3"/><feMerge><feMergeNode in="o3"/><feMergeNode in="o2"/><feMergeNode in="o1"/><feMergeNode in="d"/></feMerge><feComponentTransfer><feFuncR type="discrete" tableValues="1.0000 0.9333 1.0000 0.9333 1.0000 0.0000 0.0000 0.5961 0.0000 0.1176 0.1098 0.6196"/><feFuncG type="discrete" tableValues="0.0000 0.6039 0.6471 0.9333 1.0000 0.9333 1.0000 0.9608 0.7490 0.5647 0.5255 0.1882"/><feFuncB type="discrete" tableValues="0.0000 0.0000 0.0000 0.0000 0.0000 0.0000 0.0000 1.0000 1.0000 1.0000 0.9333 0.8235"/></feComponentTransfer><feGaussianBlur stdDeviation="0.8"/></filter>
<filter id="g3" filterUnits="userSpaceOnUse" x="0" y="0" width="602" height="567" color-interpolation-filters="sRGB"><feTurbulence type="fractalNoise" baseFrequency="0.2" numOctaves="1" seed="140" result="n"/><feColorMatrix in="n" type="matrix" values="0 1 0 0 0 0 1 0 0 0 0 1 0 0 0 0 0 0 0 1" result="g"/><feTurbulence type="fractalNoise" baseFrequency="0.045" numOctaves="2" seed="216" result="n2"/><feColorMatrix in="n2" type="matrix" values="0 1 0 0 0 0 1 0 0 0 0 1 0 0 0 0 0 0 0 1" result="g2"/><feComposite in="g" in2="g2" operator="arithmetic" k1="0" k2="1" k3="0.75" k4="-0.375" result="gg"/><feComposite in="SourceGraphic" in2="gg" operator="arithmetic" k1="0" k2="1" k3="1" k4="-0.5" result="v"/><feFlood flood-color="#000" x="1" y="1" width="1" height="1" result="p1"/><feFlood flood-color="#000" x="5" y="1" width="1" height="1" result="p2"/><feFlood flood-color="#000" x="1" y="5" width="1" height="1" result="p3"/><feFlood flood-color="#000" x="5" y="5" width="1" height="1" result="p4"/><feMerge x="0" y="0" width="7" height="7" result="cell"><feMergeNode in="p1"/><feMergeNode in="p2"/><feMergeNode in="p3"/><feMergeNode in="p4"/></feMerge><feTile in="cell" result="pts"/><feComposite in="v" in2="pts" operator="in" result="s"/><feMorphology in="s" operator="dilate" radius="1" result="d"/><feOffset in="d" dx="1" dy="0" result="o1"/><feOffset in="d" dx="0" dy="1" result="o2"/><feOffset in="d" dx="1" dy="1" result="o3"/><feMerge><feMergeNode in="o3"/><feMergeNode in="o2"/><feMergeNode in="o1"/><feMergeNode in="d"/></feMerge><feColorMatrix type="matrix" values="0 0 0 0 1 0 0 0 0 1 0 0 0 0 1 1 0 0 0 0"/><feComponentTransfer><feFuncA type="discrete" tableValues="0 1"/></feComponentTransfer><feGaussianBlur stdDeviation="0.8"/></filter>
<g id="Gg3"><rect x="-5" y="50" width="620" height="520" fill="#000000"/><g filter="url(#b80)"><polygon points="110.0,160.4 373.1,100.2 549.8,100.2 549.8,209.3 373.1,235.6 260.4,235.6 110.0,198.0" fill="#717171"/></g><g filter="url(#b60)"><polygon points="373.1,100.2 553.6,100.2 553.6,192.3 485.9,198.0 429.5,198.0 410.7,141.6" fill="#9c9c9c"/></g><g filter="url(#b40)"><polygon points="117.5,187.5 147.6,173.5 230.3,171.7 222.8,194.2 166.4,192.3 121.3,195.0" fill="#969696"/></g><g filter="url(#b60)"><polygon points="230.3,171.7 260.4,160.4 335.5,149.1 410.7,141.6 429.5,160.4 429.5,198.0 391.9,216.8 335.5,225.0 279.2,225.0 252.8,211.1 222.8,194.2" fill="#a2a2a2"/></g><g filter="url(#b40)"><ellipse cx="478.4" cy="124.7" rx="48.9" ry="8.3" fill="#636363"/><ellipse cx="467.1" cy="184.8" rx="22.6" ry="5.6" fill="#6d6d6d"/><ellipse cx="538.6" cy="166.0" rx="11.3" ry="5.6" fill="#717171"/><ellipse cx="320.5" cy="192.3" rx="18.8" ry="8.3" fill="#717171"/></g><g filter="url(#b30)"><ellipse cx="256.6" cy="186.7" rx="15.0" ry="4.5" fill="#717171"/><ellipse cx="207.7" cy="173.5" rx="22.6" ry="5.3" fill="#757575"/></g></g>
<filter id="qk" filterUnits="userSpaceOnUse" x="0" y="0" width="602" height="567" color-interpolation-filters="sRGB"><feTurbulence type="fractalNoise" baseFrequency="0.3" numOctaves="1" seed="73" result="n"/><feColorMatrix in="n" type="matrix" values="1 0 0 0 0 1 0 0 0 0 1 0 0 0 0 0 0 0 0 1" result="g"/><feTurbulence type="fractalNoise" baseFrequency="0.035" numOctaves="2" seed="80" result="n2"/><feColorMatrix in="n2" type="matrix" values="1 0 0 0 0 1 0 0 0 0 1 0 0 0 0 0 0 0 0 1" result="g2"/><feComposite in="g" in2="g2" operator="arithmetic" k1="0" k2="0.311526" k3="0.243056" k4="0.222709" result="gg"/><feComposite in="SourceGraphic" in2="gg" operator="arithmetic" k1="0" k2="1" k3="1" k4="-0.5" result="v"/><feFlood flood-color="#000" x="1" y="1" width="1" height="1" result="p1"/><feFlood flood-color="#000" x="5" y="1" width="1" height="1" result="p2"/><feFlood flood-color="#000" x="1" y="5" width="1" height="1" result="p3"/><feFlood flood-color="#000" x="5" y="5" width="1" height="1" result="p4"/><feMerge x="0" y="0" width="7" height="7" result="cell"><feMergeNode in="p1"/><feMergeNode in="p2"/><feMergeNode in="p3"/><feMergeNode in="p4"/></feMerge><feTile in="cell" result="pts"/><feComposite in="v" in2="pts" operator="in" result="s"/><feMorphology in="s" operator="dilate" radius="1" result="d"/><feOffset in="d" dx="1" dy="0" result="o1"/><feOffset in="d" dx="0" dy="1" result="o2"/><feOffset in="d" dx="1" dy="1" result="o3"/><feMerge><feMergeNode in="o3"/><feMergeNode in="o2"/><feMergeNode in="o1"/><feMergeNode in="d"/></feMerge><feComponentTransfer><feFuncR type="discrete" tableValues="1.0000 0.9333 1.0000 0.9333 1.0000 0.0000 0.0000 0.5961 0.0000 0.1176 0.1098 0.6196"/><feFuncG type="discrete" tableValues="0.0000 0.6039 0.6471 0.9333 1.0000 0.9333 1.0000 0.9608 0.7490 0.5647 0.5255 0.1882"/><feFuncB type="discrete" tableValues="0.0000 0.0000 0.0000 0.0000 0.0000 0.0000 0.0000 1.0000 1.0000 1.0000 0.9333 0.8235"/></feComponentTransfer><feGaussianBlur stdDeviation="0.8"/></filter>
<filter id="ql" filterUnits="userSpaceOnUse" x="0" y="0" width="602" height="567" color-interpolation-filters="sRGB"><feTurbulence type="fractalNoise" baseFrequency="0.33" numOctaves="1" seed="80" result="n"/><feColorMatrix in="n" type="matrix" values="1 0 0 0 0 1 0 0 0 0 1 0 0 0 0 0 0 0 0 1" result="g"/><feTurbulence type="fractalNoise" baseFrequency="0.035" numOctaves="2" seed="83" result="n2"/><feColorMatrix in="n2" type="matrix" values="1 0 0 0 0 1 0 0 0 0 1 0 0 0 0 0 0 0 0 1" result="g2"/><feComposite in="g" in2="g2" operator="arithmetic" k1="0" k2="0.389408" k3="0.208333" k4="0.201129" result="gg"/><feComposite in="SourceGraphic" in2="gg" operator="arithmetic" k1="0" k2="1" k3="1" k4="-0.5" result="v"/><feFlood flood-color="#000" x="1" y="1" width="1" height="1" result="p1"/><feFlood flood-color="#000" x="5" y="1" width="1" height="1" result="p2"/><feFlood flood-color="#000" x="1" y="5" width="1" height="1" result="p3"/><feFlood flood-color="#000" x="5" y="5" width="1" height="1" result="p4"/><feMerge x="0" y="0" width="7" height="7" result="cell"><feMergeNode in="p1"/><feMergeNode in="p2"/><feMergeNode in="p3"/><feMergeNode in="p4"/></feMerge><feTile in="cell" result="pts"/><feComposite in="v" in2="pts" operator="in" result="s"/><feMorphology in="s" operator="dilate" radius="1" result="d"/><feOffset in="d" dx="1" dy="0" result="o1"/><feOffset in="d" dx="0" dy="1" result="o2"/><feOffset in="d" dx="1" dy="1" result="o3"/><feMerge><feMergeNode in="o3"/><feMergeNode in="o2"/><feMergeNode in="o1"/><feMergeNode in="d"/></feMerge><feComponentTransfer><feFuncR type="discrete" tableValues="1.0000 1.0000 0.0000 0.1255 0.0000 0.6196"/><feFuncG type="discrete" tableValues="0.0000 0.6471 0.9333 0.6980 0.6980 0.1882"/><feFuncB type="discrete" tableValues="0.0000 0.0000 0.0000 0.6667 0.9333 0.8235"/></feComponentTransfer><feGaussianBlur stdDeviation="0.8"/></filter>
<filter id="qm" filterUnits="userSpaceOnUse" x="0" y="0" width="602" height="567" color-interpolation-filters="sRGB"><feTurbulence type="fractalNoise" baseFrequency="0.33" numOctaves="1" seed="87" result="n"/><feColorMatrix in="n" type="matrix" values="1 0 0 0 0 1 0 0 0 0 1 0 0 0 0 0 0 0 0 1" result="g"/><feTurbulence type="fractalNoise" baseFrequency="0.06" numOctaves="2" seed="86" result="n2"/><feColorMatrix in="n2" type="matrix" values="1 0 0 0 0 1 0 0 0 0 1 0 0 0 0 0 0 0 0 1" result="g2"/><feComposite in="g" in2="g2" operator="arithmetic" k1="0" k2="0.584112" k3="0.347222" k4="0.0343328" result="gg"/><feComposite in="SourceGraphic" in2="gg" operator="arithmetic" k1="0" k2="1" k3="1" k4="-0.5" result="v"/><feFlood flood-color="#000" x="1" y="1" width="1" height="1" result="p1"/><feFlood flood-color="#000" x="5" y="1" width="1" height="1" result="p2"/><feFlood flood-color="#000" x="1" y="5" width="1" height="1" result="p3"/><feFlood flood-color="#000" x="5" y="5" width="1" height="1" result="p4"/><feMerge x="0" y="0" width="7" height="7" result="cell"><feMergeNode in="p1"/><feMergeNode in="p2"/><feMergeNode in="p3"/><feMergeNode in="p4"/></feMerge><feTile in="cell" result="pts"/><feComposite in="v" in2="pts" operator="in" result="s"/><feMorphology in="s" operator="dilate" radius="1" result="d"/><feOffset in="d" dx="1" dy="0" result="o1"/><feOffset in="d" dx="0" dy="1" result="o2"/><feOffset in="d" dx="1" dy="1" result="o3"/><feMerge><feMergeNode in="o3"/><feMergeNode in="o2"/><feMergeNode in="o1"/><feMergeNode in="d"/></feMerge><feComponentTransfer><feFuncR type="discrete" tableValues="1.0000 0.9333 1.0000 0.9333 1.0000 0.0000 0.0000 0.5961 0.0000 0.1176 0.1098 0.6196"/><feFuncG type="discrete" tableValues="0.0000 0.6039 0.6471 0.9333 1.0000 0.9333 1.0000 0.9608 0.7490 0.5647 0.5255 0.1882"/><feFuncB type="discrete" tableValues="0.0000 0.0000 0.0000 0.0000 0.0000 0.0000 0.0000 1.0000 1.0000 1.0000 0.9333 0.8235"/></feComponentTransfer><feGaussianBlur stdDeviation="0.8"/></filter>
<filter id="g4" filterUnits="userSpaceOnUse" x="0" y="0" width="602" height="567" color-interpolation-filters="sRGB"><feTurbulence type="fractalNoise" baseFrequency="0.2" numOctaves="1" seed="153" result="n"/><feColorMatrix in="n" type="matrix" values="0 1 0 0 0 0 1 0 0 0 0 1 0 0 0 0 0 0 0 1" result="g"/><feTurbulence type="fractalNoise" baseFrequency="0.045" numOctaves="2" seed="221" result="n2"/><feColorMatrix in="n2" type="matrix" values="0 1 0 0 0 0 1 0 0 0 0 1 0 0 0 0 0 0 0 1" result="g2"/><feComposite in="g" in2="g2" operator="arithmetic" k1="0" k2="1" k3="0.5" k4="-0.25" result="gg"/><feComposite in="SourceGraphic" in2="gg" operator="arithmetic" k1="0" k2="1" k3="1" k4="-0.5" result="v"/><feFlood flood-color="#000" x="1" y="1" width="1" height="1" result="p1"/><feFlood flood-color="#000" x="5" y="1" width="1" height="1" result="p2"/><feFlood flood-color="#000" x="1" y="5" width="1" height="1" result="p3"/><feFlood flood-color="#000" x="5" y="5" width="1" height="1" result="p4"/><feMerge x="0" y="0" width="7" height="7" result="cell"><feMergeNode in="p1"/><feMergeNode in="p2"/><feMergeNode in="p3"/><feMergeNode in="p4"/></feMerge><feTile in="cell" result="pts"/><feComposite in="v" in2="pts" operator="in" result="s"/><feMorphology in="s" operator="dilate" radius="1" result="d"/><feOffset in="d" dx="1" dy="0" result="o1"/><feOffset in="d" dx="0" dy="1" result="o2"/><feOffset in="d" dx="1" dy="1" result="o3"/><feMerge><feMergeNode in="o3"/><feMergeNode in="o2"/><feMergeNode in="o1"/><feMergeNode in="d"/></feMerge><feColorMatrix type="matrix" values="0 0 0 0 1 0 0 0 0 1 0 0 0 0 1 1 0 0 0 0"/><feComponentTransfer><feFuncA type="discrete" tableValues="0 1"/></feComponentTransfer><feGaussianBlur stdDeviation="0.8"/></filter>
<g id="Gg4"><rect x="-5" y="50" width="620" height="520" fill="#000000"/><g filter="url(#b80)"><polygon points="328.0,100.2 410.7,100.2 410.7,152.9 328.0,152.9" fill="#7c7c7c"/></g><g filter="url(#b60)"><polygon points="110.0,171.7 241.6,160.4 241.6,209.3 110.0,209.3" fill="#717171"/></g><g filter="url(#b30)"><polygon points="42.3,198.0 91.2,189.0 140.1,177.7 177.7,179.2 245.3,181.1 245.3,198.0 166.4,195.0 110.0,200.2 42.3,207.0" fill="#b2b2b2"/></g><g filter="url(#b50)"><polygon points="241.6,181.1 298.0,162.3 354.3,143.5 391.9,100.2 553.6,100.2 553.6,164.1 523.5,198.0 485.9,201.7 429.5,209.3 391.9,216.8 354.3,213.0 316.7,229.9 260.4,231.8 230.3,216.8 222.8,198.0" fill="#b2b2b2"/></g><g filter="url(#b40)"><ellipse cx="474.6" cy="134.1" rx="26.3" ry="10.5" fill="#606060"/><ellipse cx="542.3" cy="184.8" rx="9.4" ry="16.9" fill="#5d5d5d"/></g><g filter="url(#b30)"><ellipse cx="252.8" cy="194.2" rx="13.2" ry="4.5" fill="#717171"/></g></g>
<filter id="qn" filterUnits="userSpaceOnUse" x="0" y="0" width="602" height="567" color-interpolation-filters="sRGB"><feTurbulence type="fractalNoise" baseFrequency="0.3" numOctaves="1" seed="94" result="n"/><feColorMatrix in="n" type="matrix" values="1 0 0 0 0 1 0 0 0 0 1 0 0 0 0 0 0 0 0 1" result="g"/><feTurbulence type="fractalNoise" baseFrequency="0.035" numOctaves="2" seed="89" result="n2"/><feColorMatrix in="n2" type="matrix" values="1 0 0 0 0 1 0 0 0 0 1 0 0 0 0 0 0 0 0 1" result="g2"/><feComposite in="g" in2="g2" operator="arithmetic" k1="0" k2="0.311526" k3="0.243056" k4="0.222709" result="gg"/><feComposite in="SourceGraphic" in2="gg" operator="arithmetic" k1="0" k2="1" k3="1" k4="-0.5" result="v"/><feFlood flood-color="#000" x="1" y="1" width="1" height="1" result="p1"/><feFlood flood-color="#000" x="5" y="1" width="1" height="1" result="p2"/><feFlood flood-color="#000" x="1" y="5" width="1" height="1" result="p3"/><feFlood flood-color="#000" x="5" y="5" width="1" height="1" result="p4"/><feMerge x="0" y="0" width="7" height="7" result="cell"><feMergeNode in="p1"/><feMergeNode in="p2"/><feMergeNode in="p3"/><feMergeNode in="p4"/></feMerge><feTile in="cell" result="pts"/><feComposite in="v" in2="pts" operator="in" result="s"/><feMorphology in="s" operator="dilate" radius="1" result="d"/><feOffset in="d" dx="1" dy="0" result="o1"/><feOffset in="d" dx="0" dy="1" result="o2"/><feOffset in="d" dx="1" dy="1" result="o3"/><feMerge><feMergeNode in="o3"/><feMergeNode in="o2"/><feMergeNode in="o1"/><feMergeNode in="d"/></feMerge><feComponentTransfer><feFuncR type="discrete" tableValues="1.0000 0.9333 1.0000 0.9333 1.0000 0.0000 0.0000 0.5961 0.0000 0.1176 0.1098 0.6196"/><feFuncG type="discrete" tableValues="0.0000 0.6039 0.6471 0.9333 1.0000 0.9333 1.0000 0.9608 0.7490 0.5647 0.5255 0.1882"/><feFuncB type="discrete" tableValues="0.0000 0.0000 0.0000 0.0000 0.0000 0.0000 0.0000 1.0000 1.0000 1.0000 0.9333 0.8235"/></feComponentTransfer><feGaussianBlur stdDeviation="0.8"/></filter>
<filter id="qo" filterUnits="userSpaceOnUse" x="0" y="0" width="602" height="567" color-interpolation-filters="sRGB"><feTurbulence type="fractalNoise" baseFrequency="0.33" numOctaves="1" seed="101" result="n"/><feColorMatrix in="n" type="matrix" values="1 0 0 0 0 1 0 0 0 0 1 0 0 0 0 0 0 0 0 1" result="g"/><feTurbulence type="fractalNoise" baseFrequency="0.035" numOctaves="2" seed="92" result="n2"/><feColorMatrix in="n2" type="matrix" values="1 0 0 0 0 1 0 0 0 0 1 0 0 0 0 0 0 0 0 1" result="g2"/><feComposite in="g" in2="g2" operator="arithmetic" k1="0" k2="0.389408" k3="0.208333" k4="0.201129" result="gg"/><feComposite in="SourceGraphic" in2="gg" operator="arithmetic" k1="0" k2="1" k3="1" k4="-0.5" result="v"/><feFlood flood-color="#000" x="1" y="1" width="1" height="1" result="p1"/><feFlood flood-color="#000" x="5" y="1" width="1" height="1" result="p2"/><feFlood flood-color="#000" x="1" y="5" width="1" height="1" result="p3"/><feFlood flood-color="#000" x="5" y="5" width="1" height="1" result="p4"/><feMerge x="0" y="0" width="7" height="7" result="cell"><feMergeNode in="p1"/><feMergeNode in="p2"/><feMergeNode in="p3"/><feMergeNode in="p4"/></feMerge><feTile in="cell" result="pts"/><feComposite in="v" in2="pts" operator="in" result="s"/><feMorphology in="s" operator="dilate" radius="1" result="d"/><feOffset in="d" dx="1" dy="0" result="o1"/><feOffset in="d" dx="0" dy="1" result="o2"/><feOffset in="d" dx="1" dy="1" result="o3"/><feMerge><feMergeNode in="o3"/><feMergeNode in="o2"/><feMergeNode in="o1"/><feMergeNode in="d"/></feMerge><feComponentTransfer><feFuncR type="discrete" tableValues="1.0000 1.0000 0.0000 0.1255 0.0000 0.6196"/><feFuncG type="discrete" tableValues="0.0000 0.6471 0.9333 0.6980 0.6980 0.1882"/><feFuncB type="discrete" tableValues="0.0000 0.0000 0.0000 0.6667 0.9333 0.8235"/></feComponentTransfer><feGaussianBlur stdDeviation="0.8"/></filter>
<filter id="b100" filterUnits="userSpaceOnUse" x="-60" y="0" width="720" height="620" color-interpolation-filters="sRGB"><feGaussianBlur stdDeviation="10"/></filter>
<filter id="b12" filterUnits="userSpaceOnUse" x="-60" y="0" width="720" height="620" color-interpolation-filters="sRGB"><feGaussianBlur stdDeviation="1.2"/></filter>
<filter id="b120" filterUnits="userSpaceOnUse" x="-60" y="0" width="720" height="620" color-interpolation-filters="sRGB"><feGaussianBlur stdDeviation="12"/></filter>
<filter id="b140" filterUnits="userSpaceOnUse" x="-60" y="0" width="720" height="620" color-interpolation-filters="sRGB"><feGaussianBlur stdDeviation="14"/></filter>
<filter id="b15" filterUnits="userSpaceOnUse" x="-60" y="0" width="720" height="620" color-interpolation-filters="sRGB"><feGaussianBlur stdDeviation="1.5"/></filter>
<filter id="b160" filterUnits="userSpaceOnUse" x="-60" y="0" width="720" height="620" color-interpolation-filters="sRGB"><feGaussianBlur stdDeviation="16"/></filter>
<filter id="b20" filterUnits="userSpaceOnUse" x="-60" y="0" width="720" height="620" color-interpolation-filters="sRGB"><feGaussianBlur stdDeviation="2"/></filter>
<filter id="b25" filterUnits="userSpaceOnUse" x="-60" y="0" width="720" height="620" color-interpolation-filters="sRGB"><feGaussianBlur stdDeviation="2.5"/></filter>
<filter id="b30" filterUnits="userSpaceOnUse" x="-60" y="0" width="720" height="620" color-interpolation-filters="sRGB"><feGaussianBlur stdDeviation="3"/></filter>
<filter id="b40" filterUnits="userSpaceOnUse" x="-60" y="0" width="720" height="620" color-interpolation-filters="sRGB"><feGaussianBlur stdDeviation="4"/></filter>
<filter id="b50" filterUnits="userSpaceOnUse" x="-60" y="0" width="720" height="620" color-interpolation-filters="sRGB"><feGaussianBlur stdDeviation="5"/></filter>
<filter id="b60" filterUnits="userSpaceOnUse" x="-60" y="0" width="720" height="620" color-interpolation-filters="sRGB"><feGaussianBlur stdDeviation="6"/></filter>
<filter id="b70" filterUnits="userSpaceOnUse" x="-60" y="0" width="720" height="620" color-interpolation-filters="sRGB"><feGaussianBlur stdDeviation="7"/></filter>
<filter id="b80" filterUnits="userSpaceOnUse" x="-60" y="0" width="720" height="620" color-interpolation-filters="sRGB"><feGaussianBlur stdDeviation="8"/></filter>
<filter id="b90" filterUnits="userSpaceOnUse" x="-60" y="0" width="720" height="620" color-interpolation-filters="sRGB"><feGaussianBlur stdDeviation="9"/></filter>
</defs>
<rect width="2097" height="3026" fill="#fff"/>
<g transform="translate(122 14)"><g transform="translate(0.60 0.70)"><g clip-path="url(#cP)"><g clip-path="url(#cH1)"><g transform="translate(-0.60 -0.70)"><g filter="url(#qa)"><g transform="translate(0.60 0.70)"><rect x="-5" y="50" width="620" height="520" fill="#bdbdbd"/><g filter="url(#b140)"><rect x="222.8" y="107.8" width="327.1" height="94.0" fill="#d2d2d2"/></g><g filter="url(#b90)"><ellipse cx="335.5" cy="179.2" rx="82.7" ry="22.6" fill="#dfdfdf"/><ellipse cx="485.9" cy="134.1" rx="56.4" ry="18.8" fill="#dbdbdb"/><ellipse cx="290.4" cy="254.4" rx="112.8" ry="30.1" fill="#979797"/><ellipse cx="313.0" cy="254.4" rx="45.1" ry="18.8" fill="#848484"/><ellipse cx="192.7" cy="258.1" rx="45.1" ry="26.3" fill="#979797"/><ellipse cx="497.2" cy="228.1" rx="60.2" ry="30.1" fill="#9b9b9b"/><ellipse cx="531.0" cy="295.7" rx="22.6" ry="30.1" fill="#9b9b9b"/><ellipse cx="275.4" cy="491.2" rx="112.8" ry="26.3" fill="#8a8a8a"/><ellipse cx="290.4" cy="495.0" rx="45.1" ry="15.0" fill="#797979"/><ellipse cx="467.1" cy="498.7" rx="82.7" ry="18.8" fill="#9b9b9b"/><ellipse cx="166.4" cy="397.2" rx="30.1" ry="13.2" fill="#959595"/><ellipse cx="166.4" cy="468.7" rx="22.6" ry="30.1" fill="#9f9f9f"/><ellipse cx="260.4" cy="329.6" rx="37.6" ry="22.6" fill="#cacaca"/><ellipse cx="429.5" cy="340.8" rx="45.1" ry="37.6" fill="#c6c6c6"/><ellipse cx="177.7" cy="340.8" rx="33.8" ry="30.1" fill="#cacaca"/><ellipse cx="448.3" cy="442.3" rx="75.2" ry="22.6" fill="#cacaca"/></g></g></g></g><g transform="translate(-0.60 -0.70)"><g filter="url(#g0)"><g transform="translate(0.60 0.70)"><use href="#Gg0"/></g></g></g><rect x="0" y="387.6" width="600" height="2.2" fill="#fff"/></g><use href="#coast"/><rect x="17" y="12" width="504.0" height="71.0" fill="#fff"/><rect x="17" y="83" width="540.0" height="29.2" fill="#fff"/></g><rect x="0" y="0" width="596.3" height="561.2" fill="none" stroke="#8c8c8c" stroke-width="2.2"/><path d="M596.3,526.1h11.7M-21.0,526.1H0" stroke="#858585" stroke-width="1.6" fill="none"/><path d="M596.3,456.0h9.5M-13.5,456.0H0" stroke="#bdbdbd" stroke-width="1.6" fill="none"/><path d="M596.3,385.8h11.7M-21.0,385.8H0" stroke="#858585" stroke-width="1.6" fill="none"/><path d="M596.3,315.7h9.5M-13.5,315.7H0" stroke="#bdbdbd" stroke-width="1.6" fill="none"/><path d="M596.3,245.5h11.7M-21.0,245.5H0" stroke="#858585" stroke-width="1.6" fill="none"/><path d="M596.3,175.4h9.5M-13.5,175.4H0" stroke="#bdbdbd" stroke-width="1.6" fill="none"/><path d="M596.3,105.2h11.7M-21.0,105.2H0" stroke="#858585" stroke-width="1.6" fill="none"/><path d="M596.3,35.1h9.5M-13.5,35.1H0" stroke="#bdbdbd" stroke-width="1.6" fill="none"/><text transform="translate(119.00 78.80) scale(0.9060 1)" font-size="41.30" fill="#1a1a1a" stroke="#1a1a1a" stroke-width="0.55">HIM-8 CAWV NBIAS</text><text transform="translate(34.40 78.80) scale(0.9268 1)" font-size="58.00" fill="#1a1a1a" stroke="#1a1a1a" stroke-width="0.55">(a)</text><text transform="translate(48.80 114.40) scale(0.8603 1)" font-size="26.00" fill="#1a1a1a" stroke="#1a1a1a" stroke-width="0.40">NBIAS</text></g></g>
<g transform="translate(790 14)"><g transform="translate(0.10 0.70)"><g clip-path="url(#cP)"><g clip-path="url(#cH1)"><g transform="translate(-0.10 -0.70)"><g filter="url(#qb)"><g transform="translate(0.10 0.70)"><rect x="-5" y="50" width="620" height="520" fill="#848484"/><g filter="url(#b90)"><ellipse cx="298.0" cy="160.4" rx="75.2" ry="37.6" fill="#9b9b9b"/><ellipse cx="237.8" cy="325.8" rx="45.1" ry="30.1" fill="#a6a6a6"/><ellipse cx="380.7" cy="352.1" rx="33.8" ry="30.1" fill="#a6a6a6"/><ellipse cx="448.3" cy="453.6" rx="82.7" ry="26.3" fill="#a4a4a4"/><ellipse cx="230.3" cy="419.8" rx="37.6" ry="15.0" fill="#9f9f9f"/><ellipse cx="504.7" cy="397.2" rx="37.6" ry="18.8" fill="#9f9f9f"/><ellipse cx="282.9" cy="258.1" rx="124.1" ry="32.0" fill="#666666"/><ellipse cx="328.0" cy="250.6" rx="45.1" ry="15.0" fill="#4a4a4a"/><ellipse cx="177.7" cy="280.7" rx="33.8" ry="22.6" fill="#666666"/><ellipse cx="516.0" cy="231.8" rx="41.4" ry="22.6" fill="#6c6c6c"/><ellipse cx="448.3" cy="243.1" rx="37.6" ry="15.0" fill="#717171"/><ellipse cx="267.9" cy="491.2" rx="90.2" ry="26.3" fill="#646464"/><ellipse cx="282.9" cy="498.7" rx="30.1" ry="11.3" fill="#4f4f4f"/><ellipse cx="166.4" cy="397.2" rx="26.3" ry="11.3" fill="#6c6c6c"/></g></g></g></g><g transform="translate(-0.10 -0.70)"><g filter="url(#g0)"><g transform="translate(0.10 0.70)"><use href="#Gg0"/></g></g></g><rect x="0" y="387.6" width="600" height="2.2" fill="#fff"/></g><use href="#coast"/><rect x="17" y="12" width="504.0" height="71.0" fill="#fff"/><rect x="17" y="83" width="540.0" height="29.2" fill="#fff"/></g><rect x="0" y="0" width="596.3" height="561.2" fill="none" stroke="#8c8c8c" stroke-width="2.2"/><path d="M596.3,526.1h18.8" stroke="#858585" stroke-width="1.6" fill="none"/><path d="M596.3,456.0h9.5" stroke="#bdbdbd" stroke-width="1.6" fill="none"/><path d="M596.3,385.8h18.8" stroke="#858585" stroke-width="1.6" fill="none"/><path d="M596.3,315.7h9.5" stroke="#bdbdbd" stroke-width="1.6" fill="none"/><path d="M596.3,245.5h18.8" stroke="#858585" stroke-width="1.6" fill="none"/><path d="M596.3,175.4h9.5" stroke="#bdbdbd" stroke-width="1.6" fill="none"/><path d="M596.3,105.2h18.8" stroke="#858585" stroke-width="1.6" fill="none"/><path d="M596.3,35.1h9.5" stroke="#bdbdbd" stroke-width="1.6" fill="none"/><text transform="translate(120.20 78.80) scale(0.9372 1)" font-size="41.30" fill="#1a1a1a" stroke="#1a1a1a" stroke-width="0.55">HIM-8 CAWV NMVD</text><text transform="translate(33.90 78.80) scale(0.9577 1)" font-size="58.00" fill="#1a1a1a" stroke="#1a1a1a" stroke-width="0.55">(b)</text><text transform="translate(44.60 114.40) scale(0.9242 1)" font-size="26.00" fill="#1a1a1a" stroke="#1a1a1a" stroke-width="0.40">NMVD</text></g></g>
<g transform="translate(1467 14)"><g transform="translate(0.80 0.70)"><g clip-path="url(#cP)"><g clip-path="url(#cH1)"><g transform="translate(-0.80 -0.70)"><g filter="url(#qc)"><g transform="translate(0.80 0.70)"><rect x="-5" y="50" width="620" height="520" fill="#eaeaea"/><g filter="url(#b90)"><ellipse cx="192.7" cy="265.7" rx="52.6" ry="41.4" fill="#cacaca"/><ellipse cx="294.2" cy="258.1" rx="45.1" ry="22.6" fill="#cccccc"/><ellipse cx="470.9" cy="231.8" rx="82.7" ry="20.7" fill="#cccccc"/><ellipse cx="497.2" cy="325.8" rx="56.4" ry="33.8" fill="#cccccc"/><ellipse cx="422.0" cy="348.4" rx="37.6" ry="33.8" fill="#cccccc"/><ellipse cx="298.0" cy="491.2" rx="97.7" ry="26.3" fill="#cacaca"/><ellipse cx="166.4" cy="431.1" rx="22.6" ry="33.8" fill="#d0d0d0"/><ellipse cx="260.4" cy="220.5" rx="75.2" ry="15.0" fill="#d4d4d4"/></g></g></g></g><g transform="translate(-0.80 -0.70)"><g filter="url(#g0)"><g transform="translate(0.80 0.70)"><use href="#Gg0"/></g></g></g><rect x="0" y="387.6" width="600" height="2.2" fill="#fff"/></g><use href="#coast"/><rect x="17" y="12" width="562.0" height="71.0" fill="#fff"/><rect x="17" y="83" width="562.0" height="29.2" fill="#fff"/></g><rect x="0" y="0" width="596.3" height="561.2" fill="none" stroke="#8c8c8c" stroke-width="2.2"/><path d="M596.3,526.1h18.8" stroke="#858585" stroke-width="1.6" fill="none"/><path d="M596.3,456.0h9.5" stroke="#bdbdbd" stroke-width="1.6" fill="none"/><path d="M596.3,385.8h18.8" stroke="#858585" stroke-width="1.6" fill="none"/><path d="M596.3,315.7h9.5" stroke="#bdbdbd" stroke-width="1.6" fill="none"/><path d="M596.3,245.5h18.8" stroke="#858585" stroke-width="1.6" fill="none"/><path d="M596.3,175.4h9.5" stroke="#bdbdbd" stroke-width="1.6" fill="none"/><path d="M596.3,105.2h18.8" stroke="#858585" stroke-width="1.6" fill="none"/><path d="M596.3,35.1h9.5" stroke="#bdbdbd" stroke-width="1.6" fill="none"/><text transform="translate(121.00 78.80) scale(0.9530 1)" font-size="41.30" fill="#1a1a1a" stroke="#1a1a1a" stroke-width="0.55">HIM-8 CAWV Numbers</text><text transform="translate(34.20 78.80) scale(0.9314 1)" font-size="58.00" fill="#1a1a1a" stroke="#1a1a1a" stroke-width="0.55">(c)</text><text transform="translate(44.20 114.40) scale(0.8693 1)" font-size="26.00" fill="#1a1a1a" stroke="#1a1a1a" stroke-width="0.40">NC</text><text transform="translate(489.20 113.80) scale(0.9581 1)" font-size="26.00" fill="#1a1a1a" stroke="#1a1a1a" stroke-width="0.40">items</text></g></g>
<g transform="translate(122 586)"><g transform="translate(0.60 0.80)"><g clip-path="url(#cP)"><g clip-path="url(#cH)"><g transform="translate(-0.60 -0.80)"><g filter="url(#qd)"><g transform="translate(0.60 0.80)"><rect x="-5" y="50" width="620" height="520" fill="#a8a8a8"/><g filter="url(#b90)"><ellipse cx="252.8" cy="190.5" rx="97.7" ry="71.4" fill="#cecece"/></g><g filter="url(#b70)"><ellipse cx="237.8" cy="184.8" rx="63.9" ry="18.8" fill="#f9f9f9"/></g><g filter="url(#b90)"><ellipse cx="429.5" cy="160.4" rx="112.8" ry="45.1" fill="#a6a6a6"/><polygon points="335.5,220.5 549.8,205.5 549.8,386.0 298.0,386.0 316.7,310.8 354.3,254.4" fill="#868686"/><ellipse cx="410.7" cy="258.1" rx="41.4" ry="22.6" fill="#717171"/><ellipse cx="497.2" cy="280.7" rx="37.6" ry="30.1" fill="#757575"/><ellipse cx="497.2" cy="363.4" rx="52.6" ry="22.6" fill="#686868"/><ellipse cx="222.8" cy="310.8" rx="86.5" ry="56.4" fill="#aeaeae"/></g><g filter="url(#b140)"><rect x="137.0" y="390.5" width="412.8" height="127.8" fill="#797979"/></g><g filter="url(#b90)"><ellipse cx="429.5" cy="442.3" rx="124.1" ry="56.4" fill="#646464"/><ellipse cx="192.7" cy="404.7" rx="52.6" ry="15.0" fill="#6a6a6a"/><ellipse cx="241.6" cy="468.7" rx="94.0" ry="37.6" fill="#9f9f9f"/><ellipse cx="279.2" cy="498.7" rx="75.2" ry="26.3" fill="#c6c6c6"/><ellipse cx="166.4" cy="498.7" rx="22.6" ry="18.8" fill="#868686"/><ellipse cx="485.9" cy="506.3" rx="63.9" ry="15.0" fill="#828282"/></g></g></g></g><g transform="translate(-0.60 -0.80)"><g filter="url(#g1)"><g transform="translate(0.60 0.80)"><use href="#Gg1"/></g></g></g><rect x="0" y="387.6" width="600" height="2.2" fill="#fff"/></g><use href="#coast"/><rect x="17" y="12" width="499.0" height="71.0" fill="#fff"/><rect x="17" y="83" width="540.0" height="29.2" fill="#fff"/></g><rect x="0" y="0" width="596.3" height="561.2" fill="none" stroke="#8c8c8c" stroke-width="2.2"/><path d="M596.3,526.1h11.7M-21.0,526.1H0" stroke="#858585" stroke-width="1.6" fill="none"/><path d="M596.3,456.0h9.5M-13.5,456.0H0" stroke="#bdbdbd" stroke-width="1.6" fill="none"/><path d="M596.3,385.8h11.7M-21.0,385.8H0" stroke="#858585" stroke-width="1.6" fill="none"/><path d="M596.3,315.7h9.5M-13.5,315.7H0" stroke="#bdbdbd" stroke-width="1.6" fill="none"/><path d="M596.3,245.5h11.7M-21.0,245.5H0" stroke="#858585" stroke-width="1.6" fill="none"/><path d="M596.3,175.4h9.5M-13.5,175.4H0" stroke="#bdbdbd" stroke-width="1.6" fill="none"/><path d="M596.3,105.2h11.7M-21.0,105.2H0" stroke="#858585" stroke-width="1.6" fill="none"/><path d="M596.3,35.1h9.5M-13.5,35.1H0" stroke="#bdbdbd" stroke-width="1.6" fill="none"/><text transform="translate(120.30 78.80) scale(0.9088 1)" font-size="41.30" fill="#1a1a1a" stroke="#1a1a1a" stroke-width="0.55">HIM-8 CTWV NBIAS</text><text transform="translate(33.80 78.80) scale(0.9437 1)" font-size="58.00" fill="#1a1a1a" stroke="#1a1a1a" stroke-width="0.55">(d)</text><text transform="translate(48.80 114.40) scale(0.8603 1)" font-size="26.00" fill="#1a1a1a" stroke="#1a1a1a" stroke-width="0.40">NBIAS</text></g></g>
<g transform="translate(790 586)"><g transform="translate(0.10 0.80)"><g clip-path="url(#cP)"><g clip-path="url(#cH)"><g transform="translate(-0.10 -0.80)"><g filter="url(#qe)"><g transform="translate(0.10 0.80)"><rect x="-5" y="50" width="620" height="520" fill="#868686"/><g filter="url(#b90)"><ellipse cx="267.9" cy="145.4" rx="75.2" ry="26.3" fill="#6a6a6a"/><polygon points="316.7,198.0 549.8,186.7 549.8,386.0 316.7,386.0 335.5,310.8" fill="#757575"/><ellipse cx="410.7" cy="175.4" rx="86.5" ry="18.8" fill="#353535"/><ellipse cx="504.7" cy="167.9" rx="48.9" ry="16.9" fill="#424242"/><ellipse cx="448.3" cy="235.6" rx="45.1" ry="18.8" fill="#575757"/><ellipse cx="523.5" cy="363.4" rx="30.1" ry="22.6" fill="#424242"/><ellipse cx="207.7" cy="190.5" rx="33.8" ry="18.8" fill="#9f9f9f"/><ellipse cx="290.4" cy="190.5" rx="18.8" ry="15.0" fill="#9f9f9f"/><ellipse cx="207.7" cy="235.6" rx="30.1" ry="15.0" fill="#979797"/><ellipse cx="196.4" cy="370.9" rx="56.4" ry="15.0" fill="#717171"/></g><g filter="url(#b140)"><rect x="137.0" y="390.5" width="412.8" height="70.7" fill="#6c6c6c"/></g><g filter="url(#b90)"><ellipse cx="493.4" cy="446.1" rx="63.9" ry="60.2" fill="#424242"/><ellipse cx="373.1" cy="423.5" rx="56.4" ry="22.6" fill="#4f4f4f"/><ellipse cx="241.6" cy="483.7" rx="112.8" ry="37.6" fill="#868686"/><ellipse cx="275.4" cy="510.0" rx="33.8" ry="11.3" fill="#b0b0b0"/></g></g></g></g><g transform="translate(-0.10 -0.80)"><g filter="url(#g1)"><g transform="translate(0.10 0.80)"><use href="#Gg1"/></g></g></g><rect x="0" y="387.6" width="600" height="2.2" fill="#fff"/></g><use href="#coast"/><rect x="17" y="12" width="500.0" height="71.0" fill="#fff"/><rect x="17" y="83" width="540.0" height="29.2" fill="#fff"/></g><rect x="0" y="0" width="596.3" height="561.2" fill="none" stroke="#8c8c8c" stroke-width="2.2"/><path d="M596.3,526.1h18.8" stroke="#858585" stroke-width="1.6" fill="none"/><path d="M596.3,456.0h9.5" stroke="#bdbdbd" stroke-width="1.6" fill="none"/><path d="M596.3,385.8h18.8" stroke="#858585" stroke-width="1.6" fill="none"/><path d="M596.3,315.7h9.5" stroke="#bdbdbd" stroke-width="1.6" fill="none"/><path d="M596.3,245.5h18.8" stroke="#858585" stroke-width="1.6" fill="none"/><path d="M596.3,175.4h9.5" stroke="#bdbdbd" stroke-width="1.6" fill="none"/><path d="M596.3,105.2h18.8" stroke="#858585" stroke-width="1.6" fill="none"/><path d="M596.3,35.1h9.5" stroke="#bdbdbd" stroke-width="1.6" fill="none"/><text transform="translate(121.30 78.80) scale(0.9352 1)" font-size="41.30" fill="#1a1a1a" stroke="#1a1a1a" stroke-width="0.55">HIM-8 CTWV NMVD</text><text transform="translate(34.80 78.80) scale(0.9268 1)" font-size="58.00" fill="#1a1a1a" stroke="#1a1a1a" stroke-width="0.55">(e)</text><text transform="translate(44.60 114.40) scale(0.9242 1)" font-size="26.00" fill="#1a1a1a" stroke="#1a1a1a" stroke-width="0.40">NMVD</text></g></g>
<g transform="translate(1467 586)"><g transform="translate(0.80 0.80)"><g clip-path="url(#cP)"><g clip-path="url(#cH)"><g transform="translate(-0.80 -0.80)"><g filter="url(#qf)"><g transform="translate(0.80 0.80)"><rect x="-5" y="50" width="620" height="520" fill="#bcbcbc"/><g filter="url(#b140)"><rect x="410.7" y="100.2" width="142.9" height="97.7" fill="#d9d9d9"/><ellipse cx="177.7" cy="329.6" rx="48.9" ry="67.7" fill="#d4d4d4"/></g><g filter="url(#b120)"><polygon points="200.2,100.2 410.7,100.2 410.7,198.0 335.5,243.1 260.4,261.9 140.1,261.9 155.1,209.3 173.9,160.4" fill="#e6e6e6"/></g><g filter="url(#b140)"><polygon points="132.5,404.7 316.7,442.3 429.5,461.1 429.5,525.0 132.5,525.0" fill="#d7d7d7"/></g><g filter="url(#b100)"><polygon points="140.1,483.7 410.7,483.7 429.5,525.0 140.1,525.0" fill="#e3e3e3"/></g></g></g></g><g transform="translate(-0.80 -0.80)"><g filter="url(#g1)"><g transform="translate(0.80 0.80)"><use href="#Gg1"/></g></g></g><rect x="0" y="387.6" width="600" height="2.2" fill="#fff"/></g><use href="#coast"/><rect x="17" y="12" width="562.0" height="71.0" fill="#fff"/><rect x="17" y="83" width="562.0" height="29.2" fill="#fff"/></g><rect x="0" y="0" width="596.3" height="561.2" fill="none" stroke="#8c8c8c" stroke-width="2.2"/><path d="M596.3,526.1h18.8" stroke="#858585" stroke-width="1.6" fill="none"/><path d="M596.3,456.0h9.5" stroke="#bdbdbd" stroke-width="1.6" fill="none"/><path d="M596.3,385.8h18.8" stroke="#858585" stroke-width="1.6" fill="none"/><path d="M596.3,315.7h9.5" stroke="#bdbdbd" stroke-width="1.6" fill="none"/><path d="M596.3,245.5h18.8" stroke="#858585" stroke-width="1.6" fill="none"/><path d="M596.3,175.4h9.5" stroke="#bdbdbd" stroke-width="1.6" fill="none"/><path d="M596.3,105.2h18.8" stroke="#858585" stroke-width="1.6" fill="none"/><path d="M596.3,35.1h9.5" stroke="#bdbdbd" stroke-width="1.6" fill="none"/><text transform="translate(106.60 78.80) scale(0.9547 1)" font-size="41.30" fill="#1a1a1a" stroke="#1a1a1a" stroke-width="0.55">HIM-8 CTWV Numbers</text><text transform="translate(35.20 78.80) scale(0.8822 1)" font-size="58.00" fill="#1a1a1a" stroke="#1a1a1a" stroke-width="0.55">(f)</text><text transform="translate(44.20 114.40) scale(0.8693 1)" font-size="26.00" fill="#1a1a1a" stroke="#1a1a1a" stroke-width="0.40">NC</text><text transform="translate(488.80 113.80) scale(0.9903 1)" font-size="26.00" fill="#1a1a1a" stroke="#1a1a1a" stroke-width="0.40">items</text></g></g>
<g transform="translate(122 1159)"><g transform="translate(0.60 0.90)"><g clip-path="url(#cP)"><g clip-path="url(#cF)"><g transform="translate(-0.60 -0.90)"><g filter="url(#qg)"><g transform="translate(0.60 0.90)"><rect x="-5" y="50" width="620" height="520" fill="#7d7d7d"/><g filter="url(#b90)"><rect x="46.8" y="100.2" width="503.0" height="41.4" fill="#909090"/><ellipse cx="79.9" cy="130.3" rx="37.6" ry="15.0" fill="#bfbfbf"/><polygon points="316.7,122.8 549.8,122.8 549.8,194.2 335.5,194.2" fill="#8a8a8a"/></g><g filter="url(#b70)"><polygon points="42.3,145.4 110.0,149.1 222.8,198.0 553.6,198.0 553.6,273.2 42.3,273.2" fill="#565656"/></g><g filter="url(#b60)"><polygon points="91.2,126.6 155.1,137.8 222.8,164.1 335.5,182.9 335.5,198.0 279.2,201.7 204.0,194.2 140.1,175.4 94.9,145.4" fill="#cacaca"/></g><g filter="url(#b50)"><ellipse cx="147.6" cy="160.4" rx="33.8" ry="13.2" fill="#f4f4f4" transform="rotate(30 147.6 160.4)"/><ellipse cx="275.4" cy="182.9" rx="18.8" ry="11.3" fill="#f4f4f4"/></g><g filter="url(#b12)"><rect x="42.3" y="247.2" width="511.3" height="277.8" fill="#7d7d7d"/></g><g filter="url(#b50)"><rect x="42.3" y="249.1" width="511.3" height="31.6" fill="#858585"/></g><g filter="url(#b90)"><ellipse cx="110.0" cy="355.9" rx="75.2" ry="22.6" fill="#5b5b5b"/><ellipse cx="241.6" cy="393.5" rx="97.7" ry="26.3" fill="#646464"/><ellipse cx="384.4" cy="295.7" rx="82.7" ry="48.9" fill="#6c6c6c"/><ellipse cx="403.2" cy="431.1" rx="86.5" ry="26.3" fill="#626262"/><ellipse cx="110.0" cy="461.1" rx="67.7" ry="33.8" fill="#646464"/><ellipse cx="241.6" cy="479.9" rx="94.0" ry="18.8" fill="#686868"/><ellipse cx="68.6" cy="273.2" rx="22.6" ry="22.6" fill="#9b9b9b"/><ellipse cx="512.2" cy="280.7" rx="37.6" ry="26.3" fill="#959595"/><ellipse cx="68.6" cy="442.3" rx="18.8" ry="18.8" fill="#979797"/><ellipse cx="485.9" cy="491.2" rx="67.7" ry="22.6" fill="#939393"/><ellipse cx="222.8" cy="442.3" rx="56.4" ry="15.0" fill="#909090"/></g></g></g></g><g transform="translate(-0.60 -0.90)"><g filter="url(#g2)"><g transform="translate(0.60 0.90)"><use href="#Gg2"/></g></g></g></g><use href="#coast"/><rect x="17" y="12" width="397.0" height="86.0" fill="#fff"/></g><rect x="0" y="0" width="596.3" height="561.2" fill="none" stroke="#8c8c8c" stroke-width="2.2"/><path d="M596.3,526.1h11.7M-21.0,526.1H0" stroke="#858585" stroke-width="1.6" fill="none"/><path d="M596.3,456.0h9.5M-13.5,456.0H0" stroke="#bdbdbd" stroke-width="1.6" fill="none"/><path d="M596.3,385.8h11.7M-21.0,385.8H0" stroke="#858585" stroke-width="1.6" fill="none"/><path d="M596.3,315.7h9.5M-13.5,315.7H0" stroke="#bdbdbd" stroke-width="1.6" fill="none"/><path d="M596.3,245.5h11.7M-21.0,245.5H0" stroke="#858585" stroke-width="1.6" fill="none"/><path d="M596.3,175.4h9.5M-13.5,175.4H0" stroke="#bdbdbd" stroke-width="1.6" fill="none"/><path d="M596.3,105.2h11.7M-21.0,105.2H0" stroke="#858585" stroke-width="1.6" fill="none"/><path d="M596.3,35.1h9.5M-13.5,35.1H0" stroke="#bdbdbd" stroke-width="1.6" fill="none"/><text transform="translate(121.50 78.80) scale(0.8810 1)" font-size="41.30" fill="#1a1a1a" stroke="#1a1a1a" stroke-width="0.55">FY-2G WV NBIAS</text><text transform="translate(33.80 78.80) scale(0.9437 1)" font-size="58.00" fill="#1a1a1a" stroke="#1a1a1a" stroke-width="0.55">(g)</text><text transform="translate(46.70 112.90) scale(0.8538 1)" font-size="26.00" fill="#1a1a1a" stroke="#1a1a1a" stroke-width="0.40">NBIAS</text></g></g>
<g transform="translate(790 1159)"><g transform="translate(0.10 0.90)"><g clip-path="url(#cP)"><g clip-path="url(#cF)"><g transform="translate(-0.10 -0.90)"><g filter="url(#qh)"><g transform="translate(0.10 0.90)"><rect x="-5" y="50" width="620" height="520" fill="#464646"/><g filter="url(#b90)"><rect x="46.8" y="100.2" width="503.0" height="45.1" fill="#5b5b5b"/><ellipse cx="87.4" cy="130.3" rx="41.4" ry="18.8" fill="#757575"/><ellipse cx="87.4" cy="175.4" rx="41.4" ry="33.8" fill="#353535"/></g><g filter="url(#b70)"><polygon points="42.3,201.7 185.2,201.7 316.7,186.7 553.6,186.7 553.6,273.2 42.3,273.2" fill="#282828"/></g><g filter="url(#b60)"><polygon points="128.8,149.1 185.2,160.4 335.5,175.4 335.5,198.0 222.8,198.0 147.6,182.9" fill="#808080"/></g><g filter="url(#b12)"><rect x="46.8" y="246.9" width="503.0" height="271.4" fill="#464646"/></g><g filter="url(#b90)"><ellipse cx="260.4" cy="295.7" rx="112.8" ry="48.9" fill="#595959"/><polygon points="46.8,325.8 185.2,333.3 298.0,370.9 298.0,423.5 185.2,404.7 46.8,378.4" fill="#313131"/></g><g filter="url(#b40)"><ellipse cx="140.1" cy="325.8" rx="22.6" ry="11.3" fill="#111111"/><ellipse cx="68.6" cy="350.2" rx="18.8" ry="4.5" fill="#151515"/></g><g filter="url(#b90)"><ellipse cx="68.6" cy="265.7" rx="22.6" ry="15.0" fill="#757575"/><ellipse cx="410.7" cy="280.7" rx="112.8" ry="33.8" fill="#5b5b5b"/><ellipse cx="459.6" cy="344.6" rx="86.5" ry="26.3" fill="#313131"/><ellipse cx="365.6" cy="386.0" rx="48.9" ry="37.6" fill="#313131"/><ellipse cx="501.0" cy="397.2" rx="48.9" ry="26.3" fill="#606060"/><ellipse cx="94.9" cy="423.5" rx="48.9" ry="18.8" fill="#5b5b5b"/><ellipse cx="177.7" cy="468.7" rx="86.5" ry="26.3" fill="#313131"/><ellipse cx="260.4" cy="491.2" rx="37.6" ry="26.3" fill="#6c6c6c"/><ellipse cx="429.5" cy="461.1" rx="112.8" ry="33.8" fill="#373737"/><ellipse cx="504.7" cy="498.7" rx="45.1" ry="18.8" fill="#5b5b5b"/></g></g></g></g><g transform="translate(-0.10 -0.90)"><g filter="url(#g2)"><g transform="translate(0.10 0.90)"><use href="#Gg2"/></g></g></g></g><use href="#coast"/><rect x="17" y="12" width="405.0" height="86.0" fill="#fff"/></g><rect x="0" y="0" width="596.3" height="561.2" fill="none" stroke="#8c8c8c" stroke-width="2.2"/><path d="M596.3,526.1h18.8" stroke="#858585" stroke-width="1.6" fill="none"/><path d="M596.3,456.0h9.5" stroke="#bdbdbd" stroke-width="1.6" fill="none"/><path d="M596.3,385.8h18.8" stroke="#858585" stroke-width="1.6" fill="none"/><path d="M596.3,315.7h9.5" stroke="#bdbdbd" stroke-width="1.6" fill="none"/><path d="M596.3,245.5h18.8" stroke="#858585" stroke-width="1.6" fill="none"/><path d="M596.3,175.4h9.5" stroke="#bdbdbd" stroke-width="1.6" fill="none"/><path d="M596.3,105.2h18.8" stroke="#858585" stroke-width="1.6" fill="none"/><path d="M596.3,35.1h9.5" stroke="#bdbdbd" stroke-width="1.6" fill="none"/><text transform="translate(121.30 78.80) scale(0.9120 1)" font-size="41.30" fill="#1a1a1a" stroke="#1a1a1a" stroke-width="0.55">FY-2G WV NMVD</text><text transform="translate(34.80 78.80) scale(0.9268 1)" font-size="58.00" fill="#1a1a1a" stroke="#1a1a1a" stroke-width="0.55">(h)</text><text transform="translate(45.60 112.90) scale(0.9268 1)" font-size="26.00" fill="#1a1a1a" stroke="#1a1a1a" stroke-width="0.40">NMVD</text></g></g>
<g transform="translate(1467 1159)"><g transform="translate(0.80 0.90)"><g clip-path="url(#cP)"><g clip-path="url(#cF)"><g transform="translate(-0.80 -0.90)"><g filter="url(#qi)"><g transform="translate(0.80 0.90)"><rect x="-5" y="50" width="620" height="520" fill="#bababa"/><g filter="url(#b100)"><polygon points="42.3,134.1 128.8,134.1 222.8,160.4 335.5,156.6 410.7,122.8 467.1,100.2 553.6,100.2 553.6,182.9 485.9,198.0 429.5,190.5 373.1,220.5 298.0,228.1 222.8,209.3 166.4,235.6 91.2,254.4 42.3,246.9" fill="#e5e5e5"/></g><g filter="url(#b80)"><ellipse cx="260.4" cy="134.1" rx="112.8" ry="18.8" fill="#d9d9d9"/><ellipse cx="110.0" cy="119.0" rx="75.2" ry="11.3" fill="#d7d7d7"/></g><g filter="url(#b160)"><ellipse cx="260.4" cy="393.5" rx="233.1" ry="94.0" fill="#a2a2a2"/></g><g filter="url(#b120)"><ellipse cx="320.5" cy="374.7" rx="112.8" ry="63.9" fill="#7d7d7d"/></g><g filter="url(#b90)"><ellipse cx="260.4" cy="442.3" rx="169.2" ry="18.8" fill="#808080"/><ellipse cx="448.3" cy="386.0" rx="45.1" ry="33.8" fill="#888888"/></g><g filter="url(#b120)"><ellipse cx="504.7" cy="310.8" rx="45.1" ry="37.6" fill="#a2a2a2"/><rect x="42.3" y="483.7" width="511.3" height="41.4" fill="#bfbfbf"/></g></g></g></g><g transform="translate(-0.80 -0.90)"><g filter="url(#g2)"><g transform="translate(0.80 0.90)"><use href="#Gg2"/></g></g></g></g><use href="#coast"/><rect x="17" y="12" width="562.0" height="86.0" fill="#fff"/><rect x="480" y="60" width="99" height="52.2" fill="#fff"/></g><rect x="0" y="0" width="596.3" height="561.2" fill="none" stroke="#8c8c8c" stroke-width="2.2"/><path d="M596.3,526.1h18.8" stroke="#858585" stroke-width="1.6" fill="none"/><path d="M596.3,456.0h9.5" stroke="#bdbdbd" stroke-width="1.6" fill="none"/><path d="M596.3,385.8h18.8" stroke="#858585" stroke-width="1.6" fill="none"/><path d="M596.3,315.7h9.5" stroke="#bdbdbd" stroke-width="1.6" fill="none"/><path d="M596.3,245.5h18.8" stroke="#858585" stroke-width="1.6" fill="none"/><path d="M596.3,175.4h9.5" stroke="#bdbdbd" stroke-width="1.6" fill="none"/><path d="M596.3,105.2h18.8" stroke="#858585" stroke-width="1.6" fill="none"/><path d="M596.3,35.1h9.5" stroke="#bdbdbd" stroke-width="1.6" fill="none"/><text transform="translate(108.50 78.80) scale(0.9319 1)" font-size="41.30" fill="#1a1a1a" stroke="#1a1a1a" stroke-width="0.55">FY-2G WV Numbers</text><text transform="translate(35.20 78.80) scale(0.8524 1)" font-size="58.00" fill="#1a1a1a" stroke="#1a1a1a" stroke-width="0.55">(i)</text><text transform="translate(44.60 112.90) scale(0.8347 1)" font-size="26.00" fill="#1a1a1a" stroke="#1a1a1a" stroke-width="0.40">NC</text><text transform="translate(490.70 112.30) scale(0.9597 1)" font-size="26.00" fill="#1a1a1a" stroke="#1a1a1a" stroke-width="0.40">items</text></g></g>
<g transform="translate(122 1732)"><g transform="translate(0.60 0.80)"><g clip-path="url(#cP)"><g clip-path="url(#cF)"><g transform="translate(-0.60 -0.80)"><g filter="url(#qj)"><g transform="translate(0.60 0.80)"><rect x="-5" y="50" width="620" height="520" fill="#868686"/><g filter="url(#b120)"><rect x="46.8" y="228.1" width="503.0" height="37.6" fill="#b5b5b5"/></g><g filter="url(#b70)"><polygon points="46.8,100.2 373.1,100.2 335.5,134.1 222.8,152.9 155.1,160.4 128.8,182.9 46.8,209.3" fill="#f9f9f9"/><polygon points="91.2,213.0 185.2,209.3 241.6,216.8 316.7,235.6 410.7,213.0 553.6,190.5 553.6,228.1 410.7,235.6 316.7,250.6 185.2,243.1 91.2,235.6" fill="#fbfbfb"/></g><g filter="url(#b60)"><rect x="373.1" y="100.2" width="180.5" height="97.7" fill="#f9f9f9"/></g><g filter="url(#b50)"><rect x="222.8" y="141.6" width="206.8" height="86.5" fill="#f9f9f9"/><polygon points="46.8,209.3 110.0,198.0 166.4,190.5 204.0,194.2 166.4,209.3 110.0,216.8 46.8,231.8" fill="#575757"/></g><g filter="url(#b90)"><ellipse cx="140.1" cy="288.2" rx="112.8" ry="41.4" fill="#b0b0b0"/><ellipse cx="523.5" cy="292.0" rx="33.8" ry="56.4" fill="#a4a4a4"/><ellipse cx="222.8" cy="329.6" rx="56.4" ry="30.1" fill="#aaaaaa"/><ellipse cx="91.2" cy="355.9" rx="52.6" ry="22.6" fill="#515151"/><ellipse cx="136.3" cy="446.1" rx="56.4" ry="33.8" fill="#606060"/><ellipse cx="279.2" cy="412.3" rx="67.7" ry="45.1" fill="#646464"/><ellipse cx="391.9" cy="273.2" rx="18.8" ry="11.3" fill="#666666"/><ellipse cx="429.5" cy="423.5" rx="56.4" ry="22.6" fill="#6c6c6c"/><rect x="46.8" y="489.3" width="506.8" height="32.0" fill="#acacac"/><ellipse cx="72.4" cy="442.3" rx="30.1" ry="75.2" fill="#b9b9b9"/></g></g></g></g><g transform="translate(-0.60 -0.80)"><g filter="url(#g3)"><g transform="translate(0.60 0.80)"><use href="#Gg3"/></g></g></g></g><use href="#coast"/><rect x="17" y="12" width="421.0" height="86.0" fill="#fff"/></g><rect x="0" y="0" width="596.3" height="561.2" fill="none" stroke="#8c8c8c" stroke-width="2.2"/><path d="M596.3,526.1h11.7M-21.0,526.1H0" stroke="#858585" stroke-width="1.6" fill="none"/><path d="M596.3,456.0h9.5M-13.5,456.0H0" stroke="#bdbdbd" stroke-width="1.6" fill="none"/><path d="M596.3,385.8h11.7M-21.0,385.8H0" stroke="#858585" stroke-width="1.6" fill="none"/><path d="M596.3,315.7h9.5M-13.5,315.7H0" stroke="#bdbdbd" stroke-width="1.6" fill="none"/><path d="M596.3,245.5h11.7M-21.0,245.5H0" stroke="#858585" stroke-width="1.6" fill="none"/><path d="M596.3,175.4h9.5M-13.5,175.4H0" stroke="#bdbdbd" stroke-width="1.6" fill="none"/><path d="M596.3,105.2h11.7M-21.0,105.2H0" stroke="#858585" stroke-width="1.6" fill="none"/><path d="M596.3,35.1h9.5M-13.5,35.1H0" stroke="#bdbdbd" stroke-width="1.6" fill="none"/><text transform="translate(104.60 78.80) scale(0.9092 1)" font-size="41.30" fill="#1a1a1a" stroke="#1a1a1a" stroke-width="0.55">FY-4A HIWV NBIAS</text><text transform="translate(33.80 78.80) scale(0.9126 1)" font-size="58.00" fill="#1a1a1a" stroke="#1a1a1a" stroke-width="0.55">(j)</text><text transform="translate(46.70 112.90) scale(0.8538 1)" font-size="26.00" fill="#1a1a1a" stroke="#1a1a1a" stroke-width="0.40">NBIAS</text></g></g>
<g transform="translate(790 1732)"><g transform="translate(0.10 0.80)"><g clip-path="url(#cP)"><g clip-path="url(#cF)"><g transform="translate(-0.10 -0.80)"><g filter="url(#qk)"><g transform="translate(0.10 0.80)"><rect x="-5" y="50" width="620" height="520" fill="#2e2e2e"/><g filter="url(#b90)"><ellipse cx="110.0" cy="167.9" rx="63.9" ry="30.1" fill="#646464"/></g><g filter="url(#b50)"><ellipse cx="110.0" cy="173.5" rx="37.6" ry="8.3" fill="#757575" transform="rotate(-12 110.0 173.5)"/></g><g filter="url(#b90)"><ellipse cx="72.4" cy="250.6" rx="30.1" ry="15.0" fill="#666666"/><ellipse cx="230.3" cy="280.7" rx="45.1" ry="15.0" fill="#4a4a4a"/><ellipse cx="241.6" cy="378.4" rx="37.6" ry="45.1" fill="#484848"/><ellipse cx="485.9" cy="258.1" rx="60.2" ry="13.2" fill="#484848"/><ellipse cx="211.5" cy="461.1" rx="45.1" ry="37.6" fill="#4a4a4a"/><ellipse cx="76.1" cy="434.8" rx="30.1" ry="22.6" fill="#4a4a4a"/><ellipse cx="478.4" cy="479.9" rx="67.7" ry="37.6" fill="#484848"/><ellipse cx="373.1" cy="303.2" rx="37.6" ry="22.6" fill="#484848"/><ellipse cx="64.9" cy="318.3" rx="18.8" ry="11.3" fill="#4a4a4a"/></g><g filter="url(#b60)"><ellipse cx="260.4" cy="141.6" rx="56.4" ry="18.8" fill="#0f0f0f"/></g><g filter="url(#b50)"><ellipse cx="147.6" cy="322.0" rx="15.0" ry="15.0" fill="#0f0f0f"/><ellipse cx="91.2" cy="357.8" rx="18.8" ry="7.5" fill="#111111"/></g><g filter="url(#b60)"><ellipse cx="328.0" cy="404.7" rx="41.4" ry="22.6" fill="#151515"/></g><g filter="url(#b40)"><ellipse cx="401.3" cy="350.2" rx="11.3" ry="9.4" fill="#111111"/><ellipse cx="517.9" cy="397.2" rx="16.9" ry="11.3" fill="#0f0f0f"/><ellipse cx="395.7" cy="235.6" rx="15.0" ry="7.5" fill="#131313"/><ellipse cx="504.7" cy="194.2" rx="18.8" ry="7.5" fill="#131313"/><rect x="237.8" y="151.0" width="315.8" height="56.4" fill="#757575"/></g><g filter="url(#b60)"><ellipse cx="260.4" cy="141.6" rx="60.2" ry="20.7" fill="#111111"/></g></g></g></g><g transform="translate(-0.10 -0.80)"><g filter="url(#g3)"><g transform="translate(0.10 0.80)"><use href="#Gg3"/></g></g></g></g><use href="#coast"/><rect x="17" y="12" width="444.0" height="86.0" fill="#fff"/></g><rect x="0" y="0" width="596.3" height="561.2" fill="none" stroke="#8c8c8c" stroke-width="2.2"/><path d="M596.3,526.1h18.8" stroke="#858585" stroke-width="1.6" fill="none"/><path d="M596.3,456.0h9.5" stroke="#bdbdbd" stroke-width="1.6" fill="none"/><path d="M596.3,385.8h18.8" stroke="#858585" stroke-width="1.6" fill="none"/><path d="M596.3,315.7h9.5" stroke="#bdbdbd" stroke-width="1.6" fill="none"/><path d="M596.3,245.5h18.8" stroke="#858585" stroke-width="1.6" fill="none"/><path d="M596.3,175.4h9.5" stroke="#bdbdbd" stroke-width="1.6" fill="none"/><path d="M596.3,105.2h18.8" stroke="#858585" stroke-width="1.6" fill="none"/><path d="M596.3,35.1h9.5" stroke="#bdbdbd" stroke-width="1.6" fill="none"/><text transform="translate(121.30 78.80) scale(0.9309 1)" font-size="41.30" fill="#1a1a1a" stroke="#1a1a1a" stroke-width="0.55">FY-4A HIWV NMVD</text><text transform="translate(34.80 78.80) scale(0.9063 1)" font-size="58.00" fill="#1a1a1a" stroke="#1a1a1a" stroke-width="0.55">(k)</text><text transform="translate(45.60 112.90) scale(0.9268 1)" font-size="26.00" fill="#1a1a1a" stroke="#1a1a1a" stroke-width="0.40">NMVD</text></g></g>
<g transform="translate(1467 1732)"><g transform="translate(0.80 0.80)"><g clip-path="url(#cP)"><g clip-path="url(#cF)"><g transform="translate(-0.80 -0.80)"><g filter="url(#ql)"><g transform="translate(0.80 0.80)"><rect x="-5" y="50" width="620" height="520" fill="#959595"/><g filter="url(#b100)"><rect x="42.3" y="100.2" width="511.3" height="60.2" fill="#bdbdbd"/></g><g filter="url(#b90)"><polygon points="42.3,130.3 140.1,130.3 140.1,205.5 42.3,205.5" fill="#eaeaea"/><polygon points="222.8,100.2 553.6,100.2 553.6,160.4 222.8,160.4" fill="#eaeaea"/></g><g filter="url(#b120)"><rect x="42.3" y="243.1" width="511.3" height="30.1" fill="#bdbdbd"/></g><g filter="url(#b80)"><polygon points="42.3,194.2 553.6,190.5 553.6,213.0 410.7,216.8 316.7,243.1 222.8,258.1 42.3,258.1" fill="#eaeaea"/></g><g filter="url(#b60)"><rect x="121.3" y="141.6" width="432.3" height="90.2" fill="#eaeaea"/></g><g filter="url(#b90)"><ellipse cx="147.6" cy="325.8" rx="112.8" ry="22.6" fill="#777777"/></g><g filter="url(#b140)"><ellipse cx="373.1" cy="348.4" rx="169.2" ry="94.0" fill="#737373"/></g><g filter="url(#b120)"><ellipse cx="316.7" cy="386.0" rx="71.4" ry="75.2" fill="#595959"/></g><g filter="url(#b90)"><ellipse cx="391.9" cy="404.7" rx="37.6" ry="37.6" fill="#5e5e5e"/><ellipse cx="147.6" cy="370.9" rx="131.6" ry="22.6" fill="#b3b3b3"/><ellipse cx="185.2" cy="438.6" rx="169.2" ry="26.3" fill="#737373"/><ellipse cx="79.9" cy="442.3" rx="30.1" ry="18.8" fill="#555555"/><ellipse cx="204.0" cy="434.8" rx="56.4" ry="11.3" fill="#595959"/></g><g filter="url(#b100)"><rect x="42.3" y="476.2" width="511.3" height="48.9" fill="#bbbbbb"/></g><g filter="url(#b90)"><ellipse cx="459.6" cy="325.8" rx="22.6" ry="22.6" fill="#aaaaaa"/><ellipse cx="504.7" cy="461.1" rx="48.9" ry="37.6" fill="#aeaeae"/><ellipse cx="538.6" cy="495.0" rx="15.0" ry="15.0" fill="#7b7b7b"/></g></g></g></g><g transform="translate(-0.80 -0.80)"><g filter="url(#g3)"><g transform="translate(0.80 0.80)"><use href="#Gg3"/></g></g></g></g><use href="#coast"/><rect x="17" y="12" width="499.0" height="86.0" fill="#fff"/></g><rect x="0" y="0" width="596.3" height="561.2" fill="none" stroke="#8c8c8c" stroke-width="2.2"/><path d="M596.3,526.1h18.8" stroke="#858585" stroke-width="1.6" fill="none"/><path d="M596.3,456.0h9.5" stroke="#bdbdbd" stroke-width="1.6" fill="none"/><path d="M596.3,385.8h18.8" stroke="#858585" stroke-width="1.6" fill="none"/><path d="M596.3,315.7h9.5" stroke="#bdbdbd" stroke-width="1.6" fill="none"/><path d="M596.3,245.5h18.8" stroke="#858585" stroke-width="1.6" fill="none"/><path d="M596.3,175.4h9.5" stroke="#bdbdbd" stroke-width="1.6" fill="none"/><path d="M596.3,105.2h18.8" stroke="#858585" stroke-width="1.6" fill="none"/><path d="M596.3,35.1h9.5" stroke="#bdbdbd" stroke-width="1.6" fill="none"/><text transform="translate(106.60 78.80) scale(0.9475 1)" font-size="41.30" fill="#1a1a1a" stroke="#1a1a1a" stroke-width="0.55">FY-4A HIWV Numbers</text><text transform="translate(35.20 78.80) scale(0.8524 1)" font-size="58.00" fill="#1a1a1a" stroke="#1a1a1a" stroke-width="0.55">(l)</text><text transform="translate(44.60 112.90) scale(0.8347 1)" font-size="26.00" fill="#1a1a1a" stroke="#1a1a1a" stroke-width="0.40">NC</text><text transform="translate(485.70 112.30) scale(0.9597 1)" font-size="26.00" fill="#1a1a1a" stroke="#1a1a1a" stroke-width="0.40">items</text></g></g>
<g transform="translate(122 2305)"><g transform="translate(0.60 0.60)"><g clip-path="url(#cP)"><g clip-path="url(#cF)"><g transform="translate(-0.60 -0.60)"><g filter="url(#qm)"><g transform="translate(0.60 0.60)"><rect x="-5" y="50" width="620" height="520" fill="#828282"/><g filter="url(#b60)"><polygon points="46.8,100.2 335.5,100.2 335.5,141.6 260.4,175.4 185.2,175.4 140.1,166.0 110.0,179.2 46.8,194.2" fill="#fbfbfb"/></g><g filter="url(#b50)"><ellipse cx="94.9" cy="173.5" rx="52.6" ry="8.3" fill="#bfbfbf"/></g><g filter="url(#b60)"><rect x="335.5" y="100.2" width="218.0" height="97.7" fill="#fbfbfb"/><polygon points="166.4,226.2 260.4,233.7 335.5,241.2 410.7,214.9 553.6,196.1 553.6,222.4 410.7,237.5 335.5,254.4 222.8,254.4 166.4,243.1" fill="#fbfbfb"/></g><g filter="url(#b70)"><ellipse cx="110.0" cy="216.8" rx="63.9" ry="16.9" fill="#535353"/></g><g filter="url(#b50)"><ellipse cx="98.7" cy="211.1" rx="26.3" ry="7.5" fill="#424242"/></g><g filter="url(#b90)"><ellipse cx="117.5" cy="280.7" rx="75.2" ry="41.4" fill="#b0b0b0"/><ellipse cx="516.0" cy="295.7" rx="37.6" ry="33.8" fill="#b9b9b9"/><ellipse cx="110.0" cy="355.9" rx="67.7" ry="28.2" fill="#535353"/><ellipse cx="260.4" cy="404.7" rx="75.2" ry="37.6" fill="#606060"/><ellipse cx="418.3" cy="352.1" rx="48.9" ry="33.8" fill="#595959"/><ellipse cx="110.0" cy="461.1" rx="63.9" ry="37.6" fill="#5e5e5e"/><ellipse cx="316.7" cy="280.7" rx="37.6" ry="15.0" fill="#666666"/><ellipse cx="373.1" cy="404.7" rx="56.4" ry="22.6" fill="#606060"/><ellipse cx="279.2" cy="472.4" rx="94.0" ry="18.8" fill="#b9b9b9" transform="rotate(15 279.2 472.4)"/></g><g filter="url(#b40)"><ellipse cx="284.8" cy="513.8" rx="24.4" ry="7.5" fill="#f4f4f4"/></g><g filter="url(#b90)"><ellipse cx="523.5" cy="404.7" rx="30.1" ry="56.4" fill="#959595"/></g></g></g></g><g transform="translate(-0.60 -0.60)"><g filter="url(#g4)"><g transform="translate(0.60 0.60)"><use href="#Gg4"/></g></g></g></g><use href="#coast"/><rect x="17" y="12" width="499.0" height="86.0" fill="#fff"/></g><rect x="0" y="0" width="596.3" height="561.2" fill="none" stroke="#8c8c8c" stroke-width="2.2"/><path d="M596.3,526.1h11.7M-21.0,526.1H0" stroke="#858585" stroke-width="1.6" fill="none"/><path d="M596.3,456.0h9.5M-13.5,456.0H0" stroke="#bdbdbd" stroke-width="1.6" fill="none"/><path d="M596.3,385.8h11.7M-21.0,385.8H0" stroke="#858585" stroke-width="1.6" fill="none"/><path d="M596.3,315.7h9.5M-13.5,315.7H0" stroke="#bdbdbd" stroke-width="1.6" fill="none"/><path d="M596.3,245.5h11.7M-21.0,245.5H0" stroke="#858585" stroke-width="1.6" fill="none"/><path d="M596.3,175.4h9.5M-13.5,175.4H0" stroke="#bdbdbd" stroke-width="1.6" fill="none"/><path d="M596.3,105.2h11.7M-21.0,105.2H0" stroke="#858585" stroke-width="1.6" fill="none"/><path d="M596.3,35.1h9.5M-13.5,35.1H0" stroke="#bdbdbd" stroke-width="1.6" fill="none"/><path d="M0.0,561.2v6.0" stroke="#858585" stroke-width="1.6" fill="none"/><path d="M70.1,561.2v4.0" stroke="#bdbdbd" stroke-width="1.6" fill="none"/><path d="M140.3,561.2v6.0" stroke="#858585" stroke-width="1.6" fill="none"/><path d="M210.4,561.2v4.0" stroke="#bdbdbd" stroke-width="1.6" fill="none"/><path d="M280.6,561.2v6.0" stroke="#858585" stroke-width="1.6" fill="none"/><path d="M350.8,561.2v4.0" stroke="#bdbdbd" stroke-width="1.6" fill="none"/><path d="M420.9,561.2v6.0" stroke="#858585" stroke-width="1.6" fill="none"/><path d="M491.0,561.2v4.0" stroke="#bdbdbd" stroke-width="1.6" fill="none"/><path d="M561.2,561.2v6.0" stroke="#858585" stroke-width="1.6" fill="none"/><text transform="translate(134.00 78.80) scale(0.9011 1)" font-size="41.30" fill="#1a1a1a" stroke="#1a1a1a" stroke-width="0.55">FY-4A LOWV NBIAS</text><text transform="translate(33.80 78.80) scale(0.9506 1)" font-size="58.00" fill="#1a1a1a" stroke="#1a1a1a" stroke-width="0.55">(m)</text><text transform="translate(46.70 112.90) scale(0.8538 1)" font-size="26.00" fill="#1a1a1a" stroke="#1a1a1a" stroke-width="0.40">NBIAS</text></g></g>
<g transform="translate(790 2305)"><g transform="translate(0.10 0.60)"><g clip-path="url(#cP)"><g clip-path="url(#cF)"><g transform="translate(-0.10 -0.60)"><g filter="url(#qn)"><g transform="translate(0.10 0.60)"><rect x="-5" y="50" width="620" height="520" fill="#2e2e2e"/><g filter="url(#b90)"><ellipse cx="106.2" cy="167.9" rx="60.2" ry="30.1" fill="#666666"/></g><g filter="url(#b50)"><ellipse cx="110.0" cy="173.5" rx="33.8" ry="9.4" fill="#757575" transform="rotate(-15 110.0 173.5)"/></g><g filter="url(#b90)"><ellipse cx="279.2" cy="483.7" rx="75.2" ry="33.8" fill="#535353"/></g><g filter="url(#b60)"><ellipse cx="264.1" cy="502.5" rx="41.4" ry="16.9" fill="#7b7b7b"/></g><g filter="url(#b90)"><ellipse cx="68.6" cy="314.5" rx="22.6" ry="11.3" fill="#4a4a4a"/><ellipse cx="222.8" cy="329.6" rx="37.6" ry="11.3" fill="#4a4a4a"/><ellipse cx="478.4" cy="258.1" rx="67.7" ry="13.2" fill="#4a4a4a"/><ellipse cx="527.3" cy="498.7" rx="22.6" ry="18.8" fill="#4f4f4f"/></g><g filter="url(#b40)"><ellipse cx="260.4" cy="250.6" rx="22.6" ry="5.6" fill="#606060"/></g><g filter="url(#b60)"><ellipse cx="264.1" cy="141.6" rx="63.9" ry="26.3" fill="#040404"/></g><g filter="url(#b40)"><ellipse cx="61.1" cy="228.1" rx="11.3" ry="7.5" fill="#111111"/></g><g filter="url(#b50)"><ellipse cx="200.2" cy="229.9" rx="22.6" ry="13.2" fill="#111111"/><ellipse cx="151.3" cy="325.8" rx="15.0" ry="22.6" fill="#0f0f0f"/></g><g filter="url(#b40)"><ellipse cx="91.2" cy="355.9" rx="18.8" ry="7.5" fill="#131313"/></g><g filter="url(#b60)"><ellipse cx="328.0" cy="404.7" rx="41.4" ry="22.6" fill="#151515"/></g><g filter="url(#b50)"><ellipse cx="519.8" cy="399.1" rx="20.7" ry="13.2" fill="#0f0f0f"/></g><g filter="url(#b40)"><ellipse cx="493.4" cy="316.4" rx="15.0" ry="9.4" fill="#131313"/></g><g filter="url(#b90)"><ellipse cx="121.3" cy="472.4" rx="45.1" ry="37.6" fill="#1e1e1e"/></g><g filter="url(#b40)"><ellipse cx="519.8" cy="198.0" rx="30.1" ry="7.5" fill="#111111"/></g></g></g></g><g transform="translate(-0.10 -0.60)"><g filter="url(#g4)"><g transform="translate(0.10 0.60)"><use href="#Gg4"/></g></g></g></g><use href="#coast"/><rect x="17" y="12" width="478.0" height="86.0" fill="#fff"/></g><rect x="0" y="0" width="596.3" height="561.2" fill="none" stroke="#8c8c8c" stroke-width="2.2"/><path d="M596.3,526.1h18.8" stroke="#858585" stroke-width="1.6" fill="none"/><path d="M596.3,456.0h9.5" stroke="#bdbdbd" stroke-width="1.6" fill="none"/><path d="M596.3,385.8h18.8" stroke="#858585" stroke-width="1.6" fill="none"/><path d="M596.3,315.7h9.5" stroke="#bdbdbd" stroke-width="1.6" fill="none"/><path d="M596.3,245.5h18.8" stroke="#858585" stroke-width="1.6" fill="none"/><path d="M596.3,175.4h9.5" stroke="#bdbdbd" stroke-width="1.6" fill="none"/><path d="M596.3,105.2h18.8" stroke="#858585" stroke-width="1.6" fill="none"/><path d="M596.3,35.1h9.5" stroke="#bdbdbd" stroke-width="1.6" fill="none"/><path d="M0.0,561.2v6.0" stroke="#858585" stroke-width="1.6" fill="none"/><path d="M70.1,561.2v4.0" stroke="#bdbdbd" stroke-width="1.6" fill="none"/><path d="M140.3,561.2v6.0" stroke="#858585" stroke-width="1.6" fill="none"/><path d="M210.4,561.2v4.0" stroke="#bdbdbd" stroke-width="1.6" fill="none"/><path d="M280.6,561.2v6.0" stroke="#858585" stroke-width="1.6" fill="none"/><path d="M350.8,561.2v4.0" stroke="#bdbdbd" stroke-width="1.6" fill="none"/><path d="M420.9,561.2v6.0" stroke="#858585" stroke-width="1.6" fill="none"/><path d="M491.0,561.2v4.0" stroke="#bdbdbd" stroke-width="1.6" fill="none"/><path d="M561.2,561.2v6.0" stroke="#858585" stroke-width="1.6" fill="none"/><text transform="translate(123.20 78.80) scale(0.9282 1)" font-size="41.30" fill="#1a1a1a" stroke="#1a1a1a" stroke-width="0.55">FY-4A LOWV NMVD</text><text transform="translate(34.80 78.80) scale(0.9268 1)" font-size="58.00" fill="#1a1a1a" stroke="#1a1a1a" stroke-width="0.55">(n)</text><text transform="translate(45.60 112.90) scale(0.9268 1)" font-size="26.00" fill="#1a1a1a" stroke="#1a1a1a" stroke-width="0.40">NMVD</text></g></g>
<g transform="translate(1467 2305)"><g transform="translate(0.80 0.60)"><g clip-path="url(#cP)"><g clip-path="url(#cF)"><g transform="translate(-0.80 -0.60)"><g filter="url(#qo)"><g transform="translate(0.80 0.60)"><rect x="-5" y="50" width="620" height="520" fill="#9d9d9d"/><g filter="url(#b100)"><rect x="42.3" y="100.2" width="511.3" height="60.2" fill="#bdbdbd"/></g><g filter="url(#b90)"><polygon points="42.3,130.3 128.8,130.3 128.8,198.0 42.3,198.0" fill="#eaeaea"/><polygon points="128.8,152.9 222.8,100.2 553.6,100.2 553.6,179.2 222.8,179.2" fill="#eaeaea"/></g><g filter="url(#b120)"><rect x="42.3" y="246.9" width="511.3" height="33.8" fill="#bdbdbd"/></g><g filter="url(#b80)"><polygon points="42.3,198.0 553.6,194.2 553.6,228.1 410.7,235.6 316.7,261.9 222.8,261.9 42.3,250.6" fill="#eaeaea"/></g><g filter="url(#b60)"><rect x="185.2" y="141.6" width="368.4" height="94.0" fill="#eaeaea"/></g><g filter="url(#b90)"><ellipse cx="140.1" cy="348.4" rx="97.7" ry="56.4" fill="#b7b7b7"/></g><g filter="url(#b140)"><ellipse cx="373.1" cy="367.2" rx="176.7" ry="97.7" fill="#777777"/></g><g filter="url(#b120)"><ellipse cx="328.0" cy="389.7" rx="78.9" ry="75.2" fill="#555555"/></g><g filter="url(#b90)"><ellipse cx="166.4" cy="442.3" rx="131.6" ry="22.6" fill="#777777"/><ellipse cx="68.6" cy="442.3" rx="26.3" ry="18.8" fill="#555555"/></g><g filter="url(#b60)"><ellipse cx="177.7" cy="438.6" rx="97.7" ry="8.3" fill="#606060"/></g><g filter="url(#b100)"><rect x="42.3" y="476.2" width="443.6" height="48.9" fill="#bbbbbb"/></g><g filter="url(#b30)"><ellipse cx="294.2" cy="516.8" rx="41.4" ry="4.5" fill="#eaeaea"/></g><g filter="url(#b90)"><ellipse cx="504.7" cy="491.2" rx="48.9" ry="30.1" fill="#848484"/></g></g></g></g><g transform="translate(-0.80 -0.60)"><g filter="url(#g4)"><g transform="translate(0.80 0.60)"><use href="#Gg4"/></g></g></g></g><use href="#coast"/><rect x="17" y="12" width="562.0" height="86.0" fill="#fff"/><rect x="480" y="60" width="99" height="52.2" fill="#fff"/></g><rect x="0" y="0" width="596.3" height="561.2" fill="none" stroke="#8c8c8c" stroke-width="2.2"/><path d="M596.3,526.1h18.8" stroke="#858585" stroke-width="1.6" fill="none"/><path d="M596.3,456.0h9.5" stroke="#bdbdbd" stroke-width="1.6" fill="none"/><path d="M596.3,385.8h18.8" stroke="#858585" stroke-width="1.6" fill="none"/><path d="M596.3,315.7h9.5" stroke="#bdbdbd" stroke-width="1.6" fill="none"/><path d="M596.3,245.5h18.8" stroke="#858585" stroke-width="1.6" fill="none"/><path d="M596.3,175.4h9.5" stroke="#bdbdbd" stroke-width="1.6" fill="none"/><path d="M596.3,105.2h18.8" stroke="#858585" stroke-width="1.6" fill="none"/><path d="M596.3,35.1h9.5" stroke="#bdbdbd" stroke-width="1.6" fill="none"/><path d="M0.0,561.2v6.0" stroke="#858585" stroke-width="1.6" fill="none"/><path d="M70.1,561.2v4.0" stroke="#bdbdbd" stroke-width="1.6" fill="none"/><path d="M140.3,561.2v6.0" stroke="#858585" stroke-width="1.6" fill="none"/><path d="M210.4,561.2v4.0" stroke="#bdbdbd" stroke-width="1.6" fill="none"/><path d="M280.6,561.2v6.0" stroke="#858585" stroke-width="1.6" fill="none"/><path d="M350.8,561.2v4.0" stroke="#bdbdbd" stroke-width="1.6" fill="none"/><path d="M420.9,561.2v6.0" stroke="#858585" stroke-width="1.6" fill="none"/><path d="M491.0,561.2v4.0" stroke="#bdbdbd" stroke-width="1.6" fill="none"/><path d="M561.2,561.2v6.0" stroke="#858585" stroke-width="1.6" fill="none"/><text transform="translate(116.70 78.80) scale(0.9401 1)" font-size="41.30" fill="#1a1a1a" stroke="#1a1a1a" stroke-width="0.55">FY-4A LOWV Numbers</text><text transform="translate(35.20 78.80) scale(0.9000 1)" font-size="58.00" fill="#1a1a1a" stroke="#1a1a1a" stroke-width="0.55">(o)</text><text transform="translate(44.60 112.90) scale(0.8347 1)" font-size="26.00" fill="#1a1a1a" stroke="#1a1a1a" stroke-width="0.40">NC</text><text transform="translate(490.70 112.30) scale(0.9597 1)" font-size="26.00" fill="#1a1a1a" stroke="#1a1a1a" stroke-width="0.40">items</text></g></g>
<text transform="translate(11.70 133.80) scale(0.9167 1)" font-size="39.50" fill="#1a1a1a" stroke="#1a1a1a" stroke-width="0.55">40°N</text>
<text transform="translate(14.10 270.90) scale(0.8975 1)" font-size="39.50" fill="#1a1a1a" stroke="#1a1a1a" stroke-width="0.55">20°N</text>
<text transform="translate(62.60 414.10) scale(0.8689 1)" font-size="39.50" fill="#1a1a1a" stroke="#1a1a1a" stroke-width="0.55">0°</text>
<text transform="translate(16.20 555.90) scale(0.8605 1)" font-size="39.50" fill="#1a1a1a" stroke="#1a1a1a" stroke-width="0.55">20°S</text>
<text transform="translate(11.70 706.52) scale(0.9167 1)" font-size="39.50" fill="#1a1a1a" stroke="#1a1a1a" stroke-width="0.55">40°N</text>
<text transform="translate(14.10 843.62) scale(0.8975 1)" font-size="39.50" fill="#1a1a1a" stroke="#1a1a1a" stroke-width="0.55">20°N</text>
<text transform="translate(62.60 986.82) scale(0.8689 1)" font-size="39.50" fill="#1a1a1a" stroke="#1a1a1a" stroke-width="0.55">0°</text>
<text transform="translate(16.20 1128.62) scale(0.8605 1)" font-size="39.50" fill="#1a1a1a" stroke="#1a1a1a" stroke-width="0.55">20°S</text>
<text transform="translate(11.70 1280.24) scale(0.9167 1)" font-size="39.50" fill="#1a1a1a" stroke="#1a1a1a" stroke-width="0.55">40°N</text>
<text transform="translate(14.10 1417.34) scale(0.8975 1)" font-size="39.50" fill="#1a1a1a" stroke="#1a1a1a" stroke-width="0.55">20°N</text>
<text transform="translate(62.60 1560.54) scale(0.8689 1)" font-size="39.50" fill="#1a1a1a" stroke="#1a1a1a" stroke-width="0.55">0°</text>
<text transform="translate(16.20 1702.34) scale(0.8605 1)" font-size="39.50" fill="#1a1a1a" stroke="#1a1a1a" stroke-width="0.55">20°S</text>
<text transform="translate(11.70 1853.76) scale(0.9167 1)" font-size="39.50" fill="#1a1a1a" stroke="#1a1a1a" stroke-width="0.55">40°N</text>
<text transform="translate(14.10 1990.86) scale(0.8975 1)" font-size="39.50" fill="#1a1a1a" stroke="#1a1a1a" stroke-width="0.55">20°N</text>
<text transform="translate(62.60 2134.06) scale(0.8689 1)" font-size="39.50" fill="#1a1a1a" stroke="#1a1a1a" stroke-width="0.55">0°</text>
<text transform="translate(16.20 2275.86) scale(0.8605 1)" font-size="39.50" fill="#1a1a1a" stroke="#1a1a1a" stroke-width="0.55">20°S</text>
<text transform="translate(11.70 2427.18) scale(0.9167 1)" font-size="39.50" fill="#1a1a1a" stroke="#1a1a1a" stroke-width="0.55">40°N</text>
<text transform="translate(14.10 2564.28) scale(0.8975 1)" font-size="39.50" fill="#1a1a1a" stroke="#1a1a1a" stroke-width="0.55">20°N</text>
<text transform="translate(62.60 2707.48) scale(0.8689 1)" font-size="39.50" fill="#1a1a1a" stroke="#1a1a1a" stroke-width="0.55">0°</text>
<text transform="translate(16.20 2849.28) scale(0.8605 1)" font-size="39.50" fill="#1a1a1a" stroke="#1a1a1a" stroke-width="0.55">20°S</text>
<text transform="translate(95.20 2913.20) scale(0.8744 1)" font-size="39.50" fill="#1a1a1a" stroke="#1a1a1a" stroke-width="0.55">60°E</text>
<text transform="translate(233.00 2913.20) scale(0.8663 1)" font-size="39.50" fill="#1a1a1a" stroke="#1a1a1a" stroke-width="0.55">80°E</text>
<text transform="translate(366.60 2913.20) scale(0.8519 1)" font-size="39.50" fill="#1a1a1a" stroke="#1a1a1a" stroke-width="0.55">100°E</text>
<text transform="translate(506.60 2913.20) scale(0.8556 1)" font-size="39.50" fill="#1a1a1a" stroke="#1a1a1a" stroke-width="0.55">120°E</text>
<text transform="translate(642.10 2913.20) scale(0.8472 1)" font-size="39.50" fill="#1a1a1a" stroke="#1a1a1a" stroke-width="0.55">140°E</text>
<text transform="translate(762.70 2913.20) scale(0.8733 1)" font-size="39.50" fill="#1a1a1a" stroke="#1a1a1a" stroke-width="0.55">60°E</text>
<text transform="translate(900.50 2913.20) scale(0.8744 1)" font-size="39.50" fill="#1a1a1a" stroke="#1a1a1a" stroke-width="0.55">80°E</text>
<text transform="translate(1033.30 2913.20) scale(0.8583 1)" font-size="39.50" fill="#1a1a1a" stroke="#1a1a1a" stroke-width="0.55">100°E</text>
<text transform="translate(1173.70 2913.20) scale(0.8583 1)" font-size="39.50" fill="#1a1a1a" stroke="#1a1a1a" stroke-width="0.55">120°E</text>
<text transform="translate(1309.00 2913.20) scale(0.8593 1)" font-size="39.50" fill="#1a1a1a" stroke="#1a1a1a" stroke-width="0.55">140°E</text>
<text transform="translate(1438.40 2913.20) scale(0.8488 1)" font-size="39.50" fill="#1a1a1a" stroke="#1a1a1a" stroke-width="0.55">60°E</text>
<text transform="translate(1576.00 2913.20) scale(0.8628 1)" font-size="39.50" fill="#1a1a1a" stroke="#1a1a1a" stroke-width="0.55">80°E</text>
<text transform="translate(1709.20 2913.20) scale(0.8491 1)" font-size="39.50" fill="#1a1a1a" stroke="#1a1a1a" stroke-width="0.55">100°E</text>
<text transform="translate(1847.60 2913.20) scale(0.8694 1)" font-size="39.50" fill="#1a1a1a" stroke="#1a1a1a" stroke-width="0.55">120°E</text>
<text transform="translate(1983.00 2913.20) scale(0.8694 1)" font-size="39.50" fill="#1a1a1a" stroke="#1a1a1a" stroke-width="0.55">140°E</text>
<rect x="182.20" y="2941.40" width="38.63" height="37.00" fill="rgb(255,0,0)"/><rect x="220.53" y="2941.40" width="38.63" height="37.00" fill="rgb(238,154,0)"/><rect x="258.87" y="2941.40" width="38.63" height="37.00" fill="rgb(255,165,0)"/><rect x="297.20" y="2941.40" width="38.63" height="37.00" fill="rgb(238,238,0)"/><rect x="335.53" y="2941.40" width="38.63" height="37.00" fill="rgb(255,255,0)"/><rect x="373.87" y="2941.40" width="38.63" height="37.00" fill="rgb(0,238,0)"/><rect x="412.20" y="2941.40" width="38.63" height="37.00" fill="rgb(0,255,0)"/><rect x="450.53" y="2941.40" width="38.63" height="37.00" fill="rgb(152,245,255)"/><rect x="488.87" y="2941.40" width="38.63" height="37.00" fill="rgb(0,191,255)"/><rect x="527.20" y="2941.40" width="38.63" height="37.00" fill="rgb(30,144,255)"/><rect x="565.53" y="2941.40" width="38.63" height="37.00" fill="rgb(28,134,238)"/><rect x="603.87" y="2941.40" width="38.63" height="37.00" fill="rgb(158,48,210)"/><path d="M220.53,2941.40V2978.40" stroke="#000" stroke-opacity="0.35" stroke-width="1"/><path d="M258.87,2941.40V2978.40" stroke="#000" stroke-opacity="0.35" stroke-width="1"/><path d="M297.20,2941.40V2978.40" stroke="#000" stroke-opacity="0.35" stroke-width="1"/><path d="M335.53,2941.40V2978.40" stroke="#000" stroke-opacity="0.35" stroke-width="1"/><path d="M373.87,2941.40V2978.40" stroke="#000" stroke-opacity="0.35" stroke-width="1"/><path d="M412.20,2941.40V2978.40" stroke="#000" stroke-opacity="0.35" stroke-width="1"/><path d="M450.53,2941.40V2978.40" stroke="#000" stroke-opacity="0.35" stroke-width="1"/><path d="M488.87,2941.40V2978.40" stroke="#000" stroke-opacity="0.35" stroke-width="1"/><path d="M527.20,2941.40V2978.40" stroke="#000" stroke-opacity="0.35" stroke-width="1"/><path d="M565.53,2941.40V2978.40" stroke="#000" stroke-opacity="0.35" stroke-width="1"/><path d="M603.87,2941.40V2978.40" stroke="#000" stroke-opacity="0.35" stroke-width="1"/><text transform="translate(203.20 3012.00) scale(0.8847 1)" font-size="30.50" fill="#1a1a1a" stroke="#1a1a1a" stroke-width="0.40">1.7</text><text transform="translate(291.10 3012.00) scale(0.6471 1)" font-size="30.50" fill="#1a1a1a" stroke="#1a1a1a" stroke-width="0.40">1</text><text transform="translate(349.30 3012.00) scale(0.9176 1)" font-size="30.50" fill="#1a1a1a" stroke="#1a1a1a" stroke-width="0.40">0.7</text><text transform="translate(428.60 3012.00) scale(0.9412 1)" font-size="30.50" fill="#1a1a1a" stroke="#1a1a1a" stroke-width="0.40">0.3</text><text transform="translate(507.20 3012.00) scale(0.8847 1)" font-size="30.50" fill="#1a1a1a" stroke="#1a1a1a" stroke-width="0.40">0.1</text><text transform="translate(586.50 3012.00) scale(0.9630 1)" font-size="30.50" fill="#1a1a1a" stroke="#1a1a1a" stroke-width="0.40">-1</text>
<rect x="850.40" y="2941.40" width="38.64" height="37.00" fill="rgb(255,0,0)"/><rect x="888.74" y="2941.40" width="38.64" height="37.00" fill="rgb(238,154,0)"/><rect x="927.08" y="2941.40" width="38.64" height="37.00" fill="rgb(255,165,0)"/><rect x="965.42" y="2941.40" width="38.64" height="37.00" fill="rgb(238,238,0)"/><rect x="1003.77" y="2941.40" width="38.64" height="37.00" fill="rgb(255,255,0)"/><rect x="1042.11" y="2941.40" width="38.64" height="37.00" fill="rgb(0,238,0)"/><rect x="1080.45" y="2941.40" width="38.64" height="37.00" fill="rgb(0,255,0)"/><rect x="1118.79" y="2941.40" width="38.64" height="37.00" fill="rgb(152,245,255)"/><rect x="1157.13" y="2941.40" width="38.64" height="37.00" fill="rgb(0,191,255)"/><rect x="1195.47" y="2941.40" width="38.64" height="37.00" fill="rgb(30,144,255)"/><rect x="1233.82" y="2941.40" width="38.64" height="37.00" fill="rgb(28,134,238)"/><rect x="1272.16" y="2941.40" width="38.64" height="37.00" fill="rgb(158,48,210)"/><path d="M888.74,2941.40V2978.40" stroke="#000" stroke-opacity="0.35" stroke-width="1"/><path d="M927.08,2941.40V2978.40" stroke="#000" stroke-opacity="0.35" stroke-width="1"/><path d="M965.42,2941.40V2978.40" stroke="#000" stroke-opacity="0.35" stroke-width="1"/><path d="M1003.77,2941.40V2978.40" stroke="#000" stroke-opacity="0.35" stroke-width="1"/><path d="M1042.11,2941.40V2978.40" stroke="#000" stroke-opacity="0.35" stroke-width="1"/><path d="M1080.45,2941.40V2978.40" stroke="#000" stroke-opacity="0.35" stroke-width="1"/><path d="M1118.79,2941.40V2978.40" stroke="#000" stroke-opacity="0.35" stroke-width="1"/><path d="M1157.13,2941.40V2978.40" stroke="#000" stroke-opacity="0.35" stroke-width="1"/><path d="M1195.47,2941.40V2978.40" stroke="#000" stroke-opacity="0.35" stroke-width="1"/><path d="M1233.82,2941.40V2978.40" stroke="#000" stroke-opacity="0.35" stroke-width="1"/><path d="M1272.16,2941.40V2978.40" stroke="#000" stroke-opacity="0.35" stroke-width="1"/><text transform="translate(877.00 3012.00) scale(0.8824 1)" font-size="30.50" fill="#1a1a1a" stroke="#1a1a1a" stroke-width="0.40">2</text><text transform="translate(948.20 3012.00) scale(0.8706 1)" font-size="30.50" fill="#1a1a1a" stroke="#1a1a1a" stroke-width="0.40">1.5</text><text transform="translate(1024.90 3012.00) scale(0.9412 1)" font-size="30.50" fill="#1a1a1a" stroke="#1a1a1a" stroke-width="0.40">0.8</text><text transform="translate(1096.00 3012.00) scale(0.9412 1)" font-size="30.50" fill="#1a1a1a" stroke="#1a1a1a" stroke-width="0.40">0.5</text><text transform="translate(1173.70 3012.00) scale(0.9412 1)" font-size="30.50" fill="#1a1a1a" stroke="#1a1a1a" stroke-width="0.40">0.2</text><text transform="translate(1259.40 3012.00) scale(0.9412 1)" font-size="30.50" fill="#1a1a1a" stroke="#1a1a1a" stroke-width="0.40">0</text>
<rect x="1532.30" y="2938.00" width="77.02" height="37.00" fill="rgb(255,0,0)"/><rect x="1609.02" y="2938.00" width="77.02" height="37.00" fill="rgb(255,165,0)"/><rect x="1685.73" y="2938.00" width="77.02" height="37.00" fill="rgb(0,238,0)"/><rect x="1762.45" y="2938.00" width="77.02" height="37.00" fill="rgb(32,178,170)"/><rect x="1839.17" y="2938.00" width="77.02" height="37.00" fill="rgb(0,178,238)"/><rect x="1915.88" y="2938.00" width="77.02" height="37.00" fill="rgb(158,48,210)"/><path d="M1609.02,2938.00V2975.00" stroke="#000" stroke-opacity="0.35" stroke-width="1"/><path d="M1685.73,2938.00V2975.00" stroke="#000" stroke-opacity="0.35" stroke-width="1"/><path d="M1762.45,2938.00V2975.00" stroke="#000" stroke-opacity="0.35" stroke-width="1"/><path d="M1839.17,2938.00V2975.00" stroke="#000" stroke-opacity="0.35" stroke-width="1"/><path d="M1915.88,2938.00V2975.00" stroke="#000" stroke-opacity="0.35" stroke-width="1"/><text transform="translate(1593.60 3012.00) scale(0.9412 1)" font-size="30.50" fill="#1a1a1a" stroke="#1a1a1a" stroke-width="0.40">20</text><text transform="translate(1673.20 3012.00) scale(0.8824 1)" font-size="30.50" fill="#1a1a1a" stroke="#1a1a1a" stroke-width="0.40">13</text><text transform="translate(1758.00 3012.00) scale(0.8824 1)" font-size="30.50" fill="#1a1a1a" stroke="#1a1a1a" stroke-width="0.40">8</text><text transform="translate(1834.40 3012.00) scale(0.8824 1)" font-size="30.50" fill="#1a1a1a" stroke="#1a1a1a" stroke-width="0.40">5</text><text transform="translate(1910.00 3012.00) scale(0.8824 1)" font-size="30.50" fill="#1a1a1a" stroke="#1a1a1a" stroke-width="0.40">2</text>
<text transform="translate(1999.00 2963.50) scale(0.9839 1)" font-size="26.00" fill="#1a1a1a" stroke="#1a1a1a" stroke-width="0.40">items</text>
</svg>
</body></html>
